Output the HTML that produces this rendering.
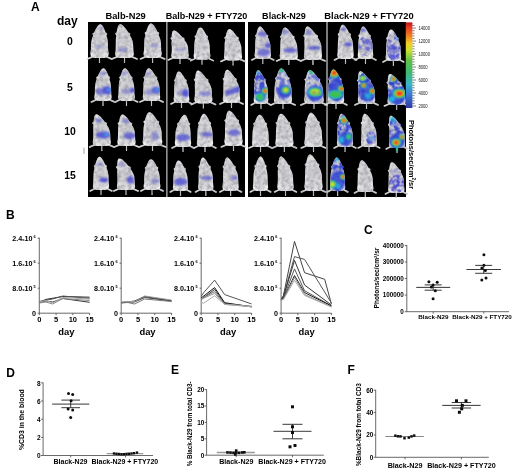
<!DOCTYPE html>
<html><head><meta charset="utf-8"><style>
html,body{margin:0;padding:0;background:#fff;}
body{width:520px;height:474px;overflow:hidden;}
svg{display:block;}
text{font-family:"Liberation Sans", sans-serif;}
</style></head><body>
<svg width="520" height="474" viewBox="0 0 520 474">
<defs>
<radialGradient id="mg" cx="0.5" cy="0.5" r="0.62">
<stop offset="0" stop-color="#cbcbcf"/>
<stop offset="0.6" stop-color="#d8d8dc"/>
<stop offset="0.9" stop-color="#ebebed"/>
<stop offset="1" stop-color="#f8f8f8"/>
</radialGradient>
<filter id="b1" x="-50%" y="-50%" width="200%" height="200%"><feGaussianBlur stdDeviation="0.9"/></filter>
<filter id="b2" x="-50%" y="-50%" width="200%" height="200%"><feGaussianBlur stdDeviation="1.5"/></filter>
<filter id="tex" x="0" y="0" width="100%" height="100%" filterUnits="userSpaceOnUse">
<feTurbulence type="fractalNoise" baseFrequency="0.28" numOctaves="2" seed="4" result="n"/>
<feColorMatrix in="n" type="matrix" values="0 0 0 0 0.42  0 0 0 0 0.42  0 0 0 0 0.45  2.6 0 0 0 -0.95" result="d"/>
<feComposite in="d" in2="SourceGraphic" operator="in" result="dc"/>
<feMerge result="m"><feMergeNode in="SourceGraphic"/><feMergeNode in="dc"/></feMerge>
<feGaussianBlur in="m" stdDeviation="0.35"/>
</filter>
<filter id="patch" filterUnits="objectBoundingBox" x="0" y="0" width="1" height="1">
<feTurbulence type="fractalNoise" baseFrequency="0.2" numOctaves="2" seed="7" result="n"/>
<feColorMatrix in="n" type="matrix" values="0 0 0 0 0  0 0 0 0 0  0 0 0 0 0  0 0 0 3.4 -1.2" result="na"/>
<feComposite in="SourceGraphic" in2="na" operator="in" result="c"/>
<feGaussianBlur in="c" stdDeviation="0.5"/>
</filter>
<filter id="patch2" filterUnits="objectBoundingBox" x="0" y="0" width="1" height="1">
<feTurbulence type="fractalNoise" baseFrequency="0.2" numOctaves="2" seed="19" result="n"/>
<feColorMatrix in="n" type="matrix" values="0 0 0 0 0  0 0 0 0 0  0 0 0 0 0  0 0 0 3.4 -1.2" result="na"/>
<feComposite in="SourceGraphic" in2="na" operator="in" result="c"/>
<feGaussianBlur in="c" stdDeviation="0.5"/>
</filter>
<filter id="gblur" filterUnits="userSpaceOnUse" x="0" y="0" width="520" height="474"><feGaussianBlur stdDeviation="0.4"/></filter>
<linearGradient id="cbar" x1="0" y1="0" x2="0" y2="1">
<stop offset="0" stop-color="#b01818"/>
<stop offset="0.05" stop-color="#e83324"/>
<stop offset="0.15" stop-color="#f07a22"/>
<stop offset="0.25" stop-color="#f0d020"/>
<stop offset="0.33" stop-color="#c8e030"/>
<stop offset="0.45" stop-color="#5cbf48"/>
<stop offset="0.6" stop-color="#3cb878"/>
<stop offset="0.72" stop-color="#38b8c8"/>
<stop offset="0.85" stop-color="#3a78d8"/>
<stop offset="1" stop-color="#3038a8"/>
</linearGradient>
</defs>
<g filter="url(#gblur)">

<text x="31" y="10.8" font-size="12" font-weight="bold">A</text>
<text x="57" y="24.5" font-size="12" font-weight="bold">day</text>
<text x="70" y="45.2" font-size="10.4" font-weight="bold" text-anchor="middle">0</text>
<text x="70" y="90.8" font-size="10.4" font-weight="bold" text-anchor="middle">5</text>
<text x="70" y="135.3" font-size="10.4" font-weight="bold" text-anchor="middle">10</text>
<text x="70" y="178.9" font-size="10.4" font-weight="bold" text-anchor="middle">15</text>
<text x="125.6" y="18.6" font-size="9.3" font-weight="bold" text-anchor="middle">Balb-N29</text>
<text x="206.5" y="18.6" font-size="9.05" font-weight="bold" text-anchor="middle">Balb-N29 + FTY720</text>
<text x="284" y="18.6" font-size="9.05" font-weight="bold" text-anchor="middle">Black-N29</text>
<text x="369" y="18.6" font-size="9.4" font-weight="bold" text-anchor="middle">Black-N29 + FTY720</text>
<rect x="83" y="147.6" width="1.8" height="6.3" fill="#cccccc"/>
<rect x="88" y="22" width="318" height="175" fill="#050505"/>
<rect x="166.2" y="22" width="1.3" height="175" fill="#b4b4b4"/>
<rect x="245" y="22" width="3" height="175" fill="#ffffff"/>
<rect x="326.3" y="22" width="1.4" height="175" fill="#b0b0b4"/>
<defs><path id="m0" d="M100.30,24.30 C100.90,24.30 101.57,24.86 102.06,25.31 C102.55,25.76 102.88,26.38 103.24,27.00 C103.60,27.61 103.92,28.34 104.22,29.02 C104.52,29.69 104.78,30.48 105.03,31.04 C105.28,31.60 105.35,31.99 105.69,32.39 C106.04,32.78 106.90,33.06 107.10,33.40 C107.30,33.74 106.98,34.02 106.87,34.41 C106.77,34.80 106.39,35.08 106.46,35.76 C106.52,36.43 107.03,37.27 107.26,38.45 C107.50,39.63 107.74,41.26 107.86,42.84 C107.99,44.41 107.96,46.49 108.02,47.89 C108.08,49.29 108.11,50.25 108.20,51.26 C108.29,52.27 108.63,53.11 108.56,53.96 C108.50,54.80 108.38,55.70 107.84,56.31 C107.30,56.93 106.69,57.38 105.30,57.66 C103.91,57.94 101.43,58.00 99.50,58.00 C97.57,58.00 95.09,57.94 93.70,57.66 C92.31,57.38 91.70,56.93 91.16,56.31 C90.62,55.70 90.50,54.80 90.44,53.96 C90.37,53.11 90.71,52.27 90.80,51.26 C90.89,50.25 90.91,49.29 90.98,47.89 C91.04,46.49 91.01,44.41 91.18,42.84 C91.36,41.26 91.72,39.63 92.03,38.45 C92.34,37.27 92.92,36.43 93.04,35.76 C93.16,35.08 92.81,34.80 92.73,34.41 C92.66,34.02 92.37,33.74 92.59,33.40 C92.82,33.06 93.71,32.78 94.09,32.39 C94.47,31.99 94.58,31.60 94.88,31.04 C95.18,30.48 95.52,29.69 95.88,29.02 C96.25,28.34 96.65,27.61 97.07,27.00 C97.50,26.38 97.89,25.76 98.43,25.31 C98.97,24.86 99.70,24.30 100.30,24.30 Z"/><path id="m1" d="M120.30,24.30 C120.92,24.30 121.80,24.86 122.45,25.31 C123.11,25.76 123.66,26.38 124.23,27.00 C124.80,27.61 125.37,28.34 125.89,29.02 C126.40,29.69 126.91,30.48 127.33,31.04 C127.75,31.60 127.94,31.99 128.40,32.39 C128.87,32.78 129.83,33.06 130.13,33.40 C130.42,33.74 130.18,34.02 130.17,34.41 C130.16,34.80 129.86,35.08 130.09,35.76 C130.32,36.43 131.07,37.27 131.54,38.45 C132.02,39.63 132.65,41.26 132.94,42.84 C133.22,44.41 133.17,46.49 133.25,47.89 C133.34,49.29 133.34,50.25 133.44,51.26 C133.53,52.27 133.87,53.11 133.81,53.96 C133.75,54.80 133.62,55.70 133.07,56.31 C132.51,56.93 131.89,57.38 130.46,57.66 C129.03,57.94 126.49,58.00 124.50,58.00 C122.51,58.00 119.97,57.94 118.54,57.66 C117.11,57.38 116.49,56.93 115.93,56.31 C115.38,55.70 115.25,54.80 115.19,53.96 C115.13,53.11 115.47,52.27 115.56,51.26 C115.66,50.25 115.71,49.29 115.75,47.89 C115.79,46.49 115.78,44.41 115.81,42.84 C115.83,41.26 115.82,39.63 115.90,38.45 C115.98,37.27 116.35,36.43 116.31,35.76 C116.27,35.08 115.83,34.80 115.65,34.41 C115.47,34.02 115.09,33.74 115.23,33.40 C115.37,33.06 116.21,32.78 116.49,32.39 C116.77,31.99 116.77,31.60 116.91,31.04 C117.04,30.48 117.16,29.69 117.32,29.02 C117.49,28.34 117.66,27.61 117.90,27.00 C118.13,26.38 118.33,25.76 118.73,25.31 C119.13,24.86 119.68,24.30 120.30,24.30 Z"/><path id="m2" d="M151.00,23.50 C151.60,23.50 152.35,24.07 152.91,24.54 C153.47,25.00 153.90,25.63 154.36,26.26 C154.81,26.89 155.25,27.64 155.64,28.33 C156.04,29.02 156.42,29.82 156.74,30.40 C157.07,30.97 157.19,31.38 157.59,31.78 C157.98,32.18 158.88,32.47 159.12,32.81 C159.36,33.16 159.08,33.45 159.03,33.85 C158.97,34.25 158.63,34.54 158.78,35.23 C158.92,35.92 159.53,36.78 159.88,37.99 C160.22,39.20 160.65,40.87 160.85,42.48 C161.05,44.09 161.01,46.21 161.08,47.65 C161.14,49.09 161.17,50.06 161.26,51.10 C161.35,52.14 161.68,53.00 161.62,53.86 C161.56,54.72 161.44,55.64 160.89,56.27 C160.35,56.91 159.75,57.37 158.37,57.66 C156.99,57.94 154.52,58.00 152.60,58.00 C150.68,58.00 148.21,57.94 146.83,57.66 C145.45,57.37 144.85,56.91 144.31,56.27 C143.76,55.64 143.64,54.72 143.58,53.86 C143.52,53.00 143.85,52.14 143.94,51.10 C144.03,50.06 144.07,49.09 144.12,47.65 C144.18,46.21 144.16,44.09 144.26,42.48 C144.36,40.87 144.53,39.20 144.73,37.99 C144.93,36.78 145.39,35.92 145.43,35.23 C145.47,34.54 145.08,34.25 144.96,33.85 C144.84,33.45 144.51,33.16 144.69,32.81 C144.88,32.47 145.72,32.18 146.05,31.78 C146.37,31.38 146.43,30.97 146.64,30.40 C146.86,29.82 147.09,29.02 147.35,28.33 C147.61,27.64 147.90,26.89 148.23,26.26 C148.55,25.63 148.85,25.00 149.31,24.54 C149.77,24.07 150.40,23.50 151.00,23.50 Z"/><path id="m3" d="M103.40,68.30 C103.97,68.30 104.62,68.84 105.10,69.28 C105.57,69.72 105.90,70.32 106.26,70.92 C106.62,71.52 106.94,72.22 107.24,72.88 C107.54,73.53 107.81,74.30 108.06,74.84 C108.30,75.39 108.38,75.77 108.72,76.15 C109.05,76.53 109.88,76.80 110.07,77.13 C110.27,77.46 109.97,77.73 109.88,78.11 C109.78,78.49 109.43,78.76 109.51,79.42 C109.58,80.07 110.08,80.89 110.32,82.03 C110.56,83.18 110.82,84.76 110.95,86.28 C111.08,87.81 111.05,89.83 111.11,91.19 C111.16,92.55 111.19,93.48 111.28,94.46 C111.37,95.44 111.68,96.26 111.62,97.08 C111.57,97.89 111.45,98.77 110.93,99.36 C110.42,99.96 109.84,100.40 108.52,100.67 C107.20,100.95 104.84,101.00 103.00,101.00 C101.16,101.00 98.80,100.95 97.48,100.67 C96.16,100.40 95.58,99.96 95.07,99.36 C94.55,98.77 94.43,97.89 94.38,97.08 C94.32,96.26 94.63,95.44 94.72,94.46 C94.81,93.48 94.83,92.55 94.89,91.19 C94.95,89.83 94.92,87.81 95.08,86.28 C95.23,84.76 95.55,83.18 95.83,82.03 C96.11,80.89 96.64,80.07 96.74,79.42 C96.84,78.76 96.50,78.49 96.42,78.11 C96.35,77.73 96.07,77.46 96.27,77.13 C96.48,76.80 97.32,76.53 97.68,76.15 C98.03,75.77 98.13,75.39 98.40,74.84 C98.67,74.30 98.98,73.53 99.31,72.88 C99.64,72.22 100.01,71.52 100.40,70.92 C100.79,70.32 101.15,69.72 101.65,69.28 C102.15,68.84 102.83,68.30 103.40,68.30 Z"/><path id="m4" d="M124.90,68.30 C125.46,68.30 126.16,68.84 126.68,69.28 C127.20,69.72 127.60,70.32 128.02,70.92 C128.45,71.52 128.86,72.22 129.23,72.88 C129.60,73.53 129.95,74.30 130.26,74.84 C130.56,75.39 130.68,75.77 131.05,76.15 C131.42,76.53 132.25,76.80 132.47,77.13 C132.69,77.46 132.44,77.73 132.39,78.11 C132.34,78.49 132.03,78.76 132.17,79.42 C132.30,80.07 132.88,80.89 133.20,82.03 C133.53,83.18 133.93,84.76 134.11,86.28 C134.30,87.81 134.27,89.83 134.33,91.19 C134.39,92.55 134.41,93.48 134.50,94.46 C134.58,95.44 134.89,96.26 134.83,97.08 C134.77,97.89 134.66,98.77 134.16,99.36 C133.66,99.96 133.11,100.40 131.83,100.67 C130.55,100.95 128.28,101.00 126.50,101.00 C124.72,101.00 122.45,100.95 121.17,100.67 C119.89,100.40 119.34,99.96 118.84,99.36 C118.34,98.77 118.23,97.89 118.17,97.08 C118.11,96.26 118.42,95.44 118.50,94.46 C118.59,93.48 118.62,92.55 118.67,91.19 C118.72,89.83 118.70,87.81 118.79,86.28 C118.88,84.76 119.03,83.18 119.21,82.03 C119.38,80.89 119.81,80.07 119.84,79.42 C119.87,78.76 119.51,78.49 119.40,78.11 C119.28,77.73 118.98,77.46 119.14,77.13 C119.31,76.80 120.09,76.53 120.39,76.15 C120.68,75.77 120.73,75.39 120.93,74.84 C121.12,74.30 121.33,73.53 121.57,72.88 C121.80,72.22 122.06,71.52 122.36,70.92 C122.65,70.32 122.92,69.72 123.34,69.28 C123.77,68.84 124.34,68.30 124.90,68.30 Z"/><path id="m5" d="M148.80,68.30 C149.38,68.30 150.15,68.84 150.72,69.28 C151.29,69.72 151.75,70.32 152.24,70.92 C152.72,71.52 153.20,72.22 153.63,72.88 C154.06,73.53 154.48,74.30 154.83,74.84 C155.18,75.39 155.32,75.77 155.73,76.15 C156.14,76.53 157.02,76.80 157.27,77.13 C157.52,77.46 157.27,77.73 157.24,78.11 C157.21,78.49 156.91,78.76 157.08,79.42 C157.25,80.07 157.90,80.89 158.28,82.03 C158.67,83.18 159.17,84.76 159.40,86.28 C159.62,87.81 159.58,89.83 159.65,91.19 C159.72,92.55 159.74,93.48 159.83,94.46 C159.91,95.44 160.23,96.26 160.17,97.08 C160.12,97.89 160.00,98.77 159.48,99.36 C158.96,99.96 158.38,100.40 157.05,100.67 C155.72,100.95 153.35,101.00 151.50,101.00 C149.65,101.00 147.28,100.95 145.95,100.67 C144.62,100.40 144.04,99.96 143.52,99.36 C143.00,98.77 142.88,97.89 142.83,97.08 C142.77,96.26 143.09,95.44 143.17,94.46 C143.26,93.48 143.30,92.55 143.35,91.19 C143.39,89.83 143.38,87.81 143.44,86.28 C143.50,84.76 143.58,83.18 143.71,82.03 C143.85,80.89 144.25,80.07 144.24,79.42 C144.24,78.76 143.85,78.49 143.71,78.11 C143.57,77.73 143.24,77.46 143.39,77.13 C143.55,76.80 144.34,76.53 144.63,76.15 C144.92,75.77 144.94,75.39 145.11,74.84 C145.28,74.30 145.44,73.53 145.65,72.88 C145.85,72.22 146.07,71.52 146.34,70.92 C146.61,70.32 146.84,69.72 147.25,69.28 C147.66,68.84 148.22,68.30 148.80,68.30 Z"/><path id="m6" d="M96.50,114.30 C97.10,114.30 98.00,114.83 98.67,115.25 C99.34,115.67 99.92,116.25 100.53,116.84 C101.13,117.42 101.74,118.10 102.29,118.74 C102.85,119.37 103.40,120.11 103.84,120.64 C104.29,121.17 104.50,121.54 104.98,121.91 C105.46,122.28 106.41,122.54 106.72,122.86 C107.03,123.18 106.81,123.44 106.82,123.81 C106.84,124.18 106.57,124.44 106.83,125.08 C107.09,125.71 107.87,126.50 108.39,127.61 C108.91,128.72 109.62,130.26 109.93,131.74 C110.25,133.21 110.19,135.17 110.28,136.49 C110.36,137.81 110.37,138.71 110.46,139.66 C110.55,140.61 110.88,141.40 110.82,142.20 C110.76,142.99 110.64,143.83 110.09,144.41 C109.55,145.00 108.95,145.42 107.57,145.68 C106.19,145.95 103.72,146.00 101.80,146.00 C99.88,146.00 97.41,145.95 96.03,145.68 C94.65,145.42 94.05,145.00 93.51,144.41 C92.96,143.83 92.84,142.99 92.78,142.20 C92.72,141.40 93.05,140.61 93.14,139.66 C93.23,138.71 93.29,137.81 93.32,136.49 C93.36,135.17 93.36,133.21 93.34,131.74 C93.33,130.26 93.22,128.72 93.24,127.61 C93.27,126.50 93.57,125.71 93.48,125.08 C93.40,124.44 92.96,124.18 92.76,123.81 C92.56,123.44 92.18,123.18 92.29,122.86 C92.41,122.54 93.20,122.28 93.44,121.91 C93.68,121.54 93.65,121.17 93.75,120.64 C93.84,120.11 93.89,119.37 94.00,118.74 C94.11,118.10 94.22,117.42 94.40,116.84 C94.57,116.25 94.71,115.67 95.06,115.25 C95.41,114.83 95.90,114.30 96.50,114.30 Z"/><path id="m7" d="M122.60,114.60 C123.20,114.60 124.05,115.12 124.68,115.54 C125.31,115.96 125.84,116.54 126.39,117.11 C126.94,117.69 127.49,118.37 127.98,119.00 C128.48,119.62 128.96,120.36 129.37,120.88 C129.77,121.40 129.94,121.77 130.39,122.14 C130.84,122.50 131.78,122.76 132.06,123.08 C132.35,123.39 132.10,123.65 132.09,124.02 C132.08,124.39 131.78,124.65 132.00,125.28 C132.22,125.90 132.94,126.69 133.39,127.79 C133.85,128.89 134.45,130.40 134.72,131.87 C134.99,133.34 134.94,135.27 135.02,136.58 C135.10,137.89 135.11,138.78 135.20,139.72 C135.29,140.66 135.63,141.45 135.56,142.23 C135.50,143.02 135.38,143.85 134.84,144.43 C134.30,145.01 133.69,145.42 132.30,145.69 C130.91,145.95 128.43,146.00 126.50,146.00 C124.57,146.00 122.09,145.95 120.70,145.69 C119.31,145.42 118.70,145.01 118.16,144.43 C117.62,143.85 117.50,143.02 117.44,142.23 C117.37,141.45 117.71,140.66 117.80,139.72 C117.89,138.78 117.94,137.89 117.98,136.58 C118.02,135.27 118.01,133.34 118.04,131.87 C118.07,130.40 118.07,128.89 118.16,127.79 C118.25,126.69 118.62,125.90 118.58,125.28 C118.55,124.65 118.12,124.39 117.95,124.02 C117.78,123.65 117.42,123.39 117.56,123.08 C117.70,122.76 118.52,122.50 118.79,122.14 C119.07,121.77 119.07,121.40 119.21,120.88 C119.35,120.36 119.47,119.62 119.64,119.00 C119.81,118.37 119.99,117.69 120.23,117.11 C120.46,116.54 120.66,115.96 121.06,115.54 C121.45,115.12 122.00,114.60 122.60,114.60 Z"/><path id="m8" d="M149.50,112.30 C150.15,112.30 151.02,112.86 151.67,113.31 C152.31,113.76 152.83,114.38 153.38,115.00 C153.92,115.61 154.45,116.34 154.94,117.02 C155.43,117.69 155.89,118.48 156.29,119.04 C156.68,119.60 156.85,119.99 157.30,120.39 C157.76,120.78 158.76,121.06 159.04,121.40 C159.32,121.74 159.04,122.02 159.01,122.41 C158.97,122.80 158.63,123.08 158.82,123.76 C159.02,124.43 159.74,125.27 160.18,126.45 C160.61,127.63 161.17,129.26 161.42,130.84 C161.68,132.41 161.63,134.49 161.71,135.89 C161.79,137.29 161.81,138.25 161.91,139.26 C162.01,140.27 162.37,141.11 162.30,141.96 C162.23,142.80 162.10,143.70 161.52,144.31 C160.93,144.93 160.27,145.38 158.77,145.66 C157.27,145.94 154.59,146.00 152.50,146.00 C150.41,146.00 147.73,145.94 146.23,145.66 C144.73,145.38 144.07,144.93 143.48,144.31 C142.90,143.70 142.77,142.80 142.70,141.96 C142.63,141.11 142.99,140.27 143.09,139.26 C143.19,138.25 143.24,137.29 143.29,135.89 C143.34,134.49 143.32,132.41 143.39,130.84 C143.46,129.26 143.56,127.63 143.71,126.45 C143.87,125.27 144.32,124.43 144.32,123.76 C144.32,123.08 143.88,122.80 143.72,122.41 C143.56,122.02 143.19,121.74 143.36,121.40 C143.53,121.06 144.44,120.78 144.76,120.39 C145.09,119.99 145.12,119.60 145.31,119.04 C145.51,118.48 145.69,117.69 145.92,117.02 C146.16,116.34 146.41,115.61 146.71,115.00 C147.02,114.38 147.28,113.76 147.75,113.31 C148.21,112.86 148.85,112.30 149.50,112.30 Z"/><path id="m9" d="M99.50,156.80 C100.04,156.80 100.72,157.35 101.22,157.80 C101.72,158.24 102.11,158.85 102.52,159.46 C102.93,160.06 103.33,160.78 103.69,161.45 C104.04,162.11 104.38,162.89 104.68,163.44 C104.97,163.99 105.08,164.38 105.44,164.77 C105.80,165.16 106.60,165.43 106.82,165.76 C107.03,166.10 106.79,166.37 106.74,166.76 C106.69,167.15 106.39,167.42 106.52,168.09 C106.65,168.75 107.20,169.58 107.51,170.74 C107.83,171.91 108.21,173.51 108.39,175.06 C108.57,176.61 108.54,178.66 108.60,180.04 C108.66,181.42 108.68,182.36 108.76,183.36 C108.84,184.36 109.14,185.19 109.08,186.02 C109.03,186.85 108.92,187.73 108.44,188.34 C107.95,188.95 107.41,189.39 106.17,189.67 C104.93,189.94 102.72,190.00 101.00,190.00 C99.28,190.00 97.07,189.94 95.83,189.67 C94.59,189.39 94.05,188.95 93.56,188.34 C93.08,187.73 92.97,186.85 92.92,186.02 C92.86,185.19 93.16,184.36 93.24,183.36 C93.32,182.36 93.35,181.42 93.40,180.04 C93.45,178.66 93.43,176.61 93.52,175.06 C93.60,173.51 93.76,171.91 93.93,170.74 C94.10,169.58 94.52,168.75 94.55,168.09 C94.58,167.42 94.24,167.15 94.13,166.76 C94.01,166.37 93.72,166.10 93.88,165.76 C94.04,165.43 94.80,165.16 95.09,164.77 C95.38,164.38 95.43,163.99 95.62,163.44 C95.81,162.89 96.01,162.11 96.25,161.45 C96.48,160.78 96.73,160.06 97.02,159.46 C97.31,158.85 97.57,158.24 97.99,157.80 C98.40,157.35 98.96,156.80 99.50,156.80 Z"/><path id="m10" d="M119.50,158.40 C120.10,158.40 121.05,158.93 121.76,159.35 C122.47,159.77 123.11,160.35 123.76,160.93 C124.42,161.51 125.08,162.19 125.69,162.82 C126.29,163.46 126.90,164.19 127.39,164.72 C127.88,165.25 128.11,165.62 128.62,165.98 C129.13,166.35 130.11,166.62 130.44,166.93 C130.77,167.25 130.57,167.51 130.61,167.88 C130.65,168.25 130.39,168.51 130.69,169.14 C130.99,169.78 131.84,170.57 132.41,171.67 C132.98,172.78 133.79,174.31 134.14,175.78 C134.49,177.25 134.43,179.20 134.52,180.52 C134.61,181.84 134.61,182.73 134.70,183.68 C134.79,184.63 135.13,185.42 135.06,186.21 C135.00,187.00 134.88,187.84 134.34,188.42 C133.80,189.00 133.19,189.42 131.80,189.68 C130.41,189.95 127.93,190.00 126.00,190.00 C124.07,190.00 121.59,189.95 120.20,189.68 C118.81,189.42 118.20,189.00 117.66,188.42 C117.12,187.84 117.00,187.00 116.94,186.21 C116.87,185.42 117.21,184.63 117.30,183.68 C117.39,182.73 117.45,181.84 117.48,180.52 C117.51,179.20 117.51,177.25 117.46,175.78 C117.41,174.31 117.21,172.78 117.18,171.67 C117.15,170.57 117.40,169.78 117.28,169.14 C117.16,168.51 116.69,168.25 116.47,167.88 C116.24,167.51 115.84,167.25 115.93,166.93 C116.03,166.62 116.80,166.35 117.02,165.98 C117.24,165.62 117.18,165.25 117.24,164.72 C117.29,164.19 117.29,163.46 117.35,162.82 C117.41,162.19 117.47,161.51 117.60,160.93 C117.73,160.35 117.82,159.77 118.14,159.35 C118.45,158.93 118.90,158.40 119.50,158.40 Z"/><path id="m11" d="M151.00,159.20 C151.56,159.20 152.23,159.71 152.74,160.12 C153.24,160.53 153.61,161.10 154.01,161.66 C154.41,162.23 154.80,162.90 155.14,163.51 C155.49,164.13 155.81,164.85 156.10,165.36 C156.38,165.87 156.49,166.23 156.84,166.59 C157.20,166.95 158.02,167.21 158.23,167.52 C158.44,167.82 158.18,168.08 158.12,168.44 C158.06,168.80 157.74,169.06 157.85,169.67 C157.97,170.29 158.52,171.06 158.81,172.14 C159.11,173.21 159.46,174.70 159.63,176.14 C159.80,177.58 159.77,179.48 159.83,180.76 C159.89,182.04 159.91,182.92 160.00,183.84 C160.08,184.76 160.39,185.53 160.33,186.30 C160.27,187.07 160.16,187.90 159.66,188.46 C159.16,189.02 158.61,189.44 157.33,189.69 C156.05,189.95 153.78,190.00 152.00,190.00 C150.22,190.00 147.95,189.95 146.67,189.69 C145.39,189.44 144.84,189.02 144.34,188.46 C143.84,187.90 143.73,187.07 143.67,186.30 C143.61,185.53 143.92,184.76 144.00,183.84 C144.09,182.92 144.12,182.04 144.17,180.76 C144.22,179.48 144.20,177.58 144.31,176.14 C144.41,174.70 144.61,173.21 144.82,172.14 C145.02,171.06 145.47,170.29 145.53,169.67 C145.58,169.06 145.23,168.80 145.12,168.44 C145.02,168.08 144.73,167.82 144.90,167.52 C145.08,167.21 145.87,166.95 146.18,166.59 C146.49,166.23 146.55,165.87 146.77,165.36 C146.98,164.85 147.22,164.13 147.48,163.51 C147.74,162.90 148.03,162.23 148.35,161.66 C148.67,161.10 148.96,160.53 149.40,160.12 C149.85,159.71 150.44,159.20 151.00,159.20 Z"/><path id="m12" d="M174.00,30.50 C174.58,30.50 175.48,30.98 176.16,31.36 C176.84,31.73 177.44,32.26 178.05,32.78 C178.67,33.30 179.30,33.92 179.88,34.49 C180.45,35.06 181.02,35.73 181.48,36.20 C181.95,36.68 182.16,37.01 182.65,37.34 C183.13,37.67 184.07,37.91 184.38,38.20 C184.69,38.48 184.49,38.72 184.53,39.05 C184.57,39.38 184.31,39.62 184.59,40.19 C184.87,40.76 185.67,41.47 186.21,42.47 C186.76,43.47 187.51,44.84 187.84,46.17 C188.17,47.50 188.11,49.26 188.20,50.45 C188.29,51.64 188.29,52.45 188.37,53.30 C188.46,54.15 188.78,54.87 188.72,55.58 C188.66,56.29 188.55,57.05 188.02,57.58 C187.50,58.10 186.92,58.48 185.58,58.72 C184.24,58.95 181.86,59.00 180.00,59.00 C178.14,59.00 175.76,58.95 174.42,58.72 C173.08,58.48 172.50,58.10 171.98,57.58 C171.45,57.05 171.34,56.29 171.28,55.58 C171.22,54.87 171.54,54.15 171.63,53.30 C171.71,52.45 171.77,51.64 171.80,50.45 C171.83,49.26 171.83,47.50 171.79,46.17 C171.75,44.84 171.58,43.47 171.56,42.47 C171.54,41.47 171.79,40.76 171.68,40.19 C171.58,39.62 171.13,39.38 170.92,39.05 C170.71,38.72 170.33,38.48 170.42,38.20 C170.52,37.91 171.27,37.67 171.48,37.34 C171.70,37.01 171.65,36.68 171.71,36.20 C171.78,35.73 171.78,35.06 171.85,34.49 C171.92,33.92 171.99,33.30 172.12,32.78 C172.26,32.26 172.36,31.73 172.67,31.36 C172.98,30.98 173.42,30.50 174.00,30.50 Z"/><path id="m13" d="M200.30,27.40 C200.86,27.40 201.56,27.94 202.08,28.37 C202.61,28.80 203.01,29.39 203.44,29.98 C203.87,30.58 204.28,31.28 204.66,31.92 C205.04,32.57 205.39,33.32 205.70,33.86 C206.01,34.40 206.13,34.78 206.50,35.15 C206.87,35.53 207.70,35.80 207.93,36.12 C208.15,36.44 207.90,36.71 207.85,37.09 C207.80,37.47 207.50,37.74 207.64,38.38 C207.78,39.03 208.35,39.84 208.68,40.97 C209.01,42.10 209.42,43.66 209.61,45.17 C209.80,46.67 209.77,48.66 209.83,50.01 C209.89,51.36 209.91,52.27 210.00,53.24 C210.08,54.21 210.39,55.02 210.33,55.82 C210.27,56.63 210.16,57.49 209.66,58.09 C209.16,58.68 208.61,59.11 207.33,59.38 C206.05,59.65 203.78,59.70 202.00,59.70 C200.22,59.70 197.95,59.65 196.67,59.38 C195.39,59.11 194.84,58.68 194.34,58.09 C193.84,57.49 193.73,56.63 193.67,55.82 C193.61,55.02 193.92,54.21 194.00,53.24 C194.09,52.27 194.12,51.36 194.17,50.01 C194.22,48.66 194.20,46.67 194.28,45.17 C194.37,43.66 194.52,42.10 194.69,40.97 C194.86,39.84 195.28,39.03 195.31,38.38 C195.34,37.74 194.98,37.47 194.86,37.09 C194.74,36.71 194.44,36.44 194.60,36.12 C194.76,35.80 195.54,35.53 195.84,35.15 C196.13,34.78 196.18,34.40 196.37,33.86 C196.56,33.32 196.76,32.57 197.00,31.92 C197.23,31.28 197.48,30.58 197.78,29.98 C198.07,29.39 198.33,28.80 198.75,28.37 C199.17,27.94 199.74,27.40 200.30,27.40 Z"/><path id="m14" d="M229.50,29.00 C230.10,29.00 230.93,29.52 231.55,29.95 C232.16,30.37 232.67,30.94 233.20,31.52 C233.73,32.10 234.26,32.78 234.73,33.41 C235.21,34.04 235.68,34.77 236.06,35.30 C236.45,35.82 236.62,36.19 237.06,36.56 C237.50,36.93 238.42,37.19 238.70,37.51 C238.97,37.82 238.72,38.08 238.71,38.45 C238.69,38.82 238.38,39.08 238.59,39.71 C238.79,40.34 239.49,41.13 239.92,42.23 C240.36,43.33 240.93,44.86 241.19,46.33 C241.45,47.80 241.40,49.74 241.48,51.05 C241.55,52.36 241.57,53.26 241.66,54.20 C241.75,55.15 242.08,55.93 242.02,56.72 C241.96,57.51 241.84,58.35 241.29,58.92 C240.75,59.50 240.15,59.92 238.77,60.19 C237.39,60.45 234.92,60.50 233.00,60.50 C231.08,60.50 228.61,60.45 227.23,60.19 C225.85,59.92 225.25,59.50 224.71,58.92 C224.16,58.35 224.04,57.51 223.98,56.72 C223.92,55.93 224.25,55.15 224.34,54.20 C224.43,53.26 224.48,52.36 224.52,51.05 C224.57,49.74 224.56,47.80 224.60,46.33 C224.64,44.86 224.67,43.33 224.78,42.23 C224.89,41.13 225.27,40.34 225.24,39.71 C225.22,39.08 224.80,38.82 224.64,38.45 C224.48,38.08 224.13,37.82 224.27,37.51 C224.42,37.19 225.24,36.93 225.52,36.56 C225.80,36.19 225.81,35.82 225.97,35.30 C226.12,34.77 226.26,34.04 226.44,33.41 C226.62,32.78 226.82,32.10 227.07,31.52 C227.32,30.94 227.53,30.37 227.94,29.95 C228.34,29.52 228.90,29.00 229.50,29.00 Z"/><path id="m15" d="M178.80,71.40 C179.32,71.40 180.03,71.93 180.56,72.35 C181.08,72.77 181.51,73.35 181.96,73.93 C182.40,74.51 182.84,75.19 183.25,75.82 C183.65,76.46 184.03,77.19 184.36,77.72 C184.69,78.25 184.82,78.62 185.20,78.98 C185.57,79.35 186.37,79.62 186.60,79.93 C186.84,80.25 186.62,80.51 186.59,80.88 C186.57,81.25 186.30,81.51 186.46,82.14 C186.63,82.78 187.22,83.57 187.59,84.67 C187.95,85.78 188.42,87.31 188.63,88.78 C188.84,90.25 188.80,92.20 188.87,93.52 C188.94,94.84 188.95,95.73 189.03,96.68 C189.10,97.63 189.39,98.42 189.34,99.21 C189.29,100.00 189.18,100.84 188.71,101.42 C188.24,102.00 187.72,102.42 186.52,102.68 C185.32,102.95 183.17,103.00 181.50,103.00 C179.83,103.00 177.68,102.95 176.48,102.68 C175.28,102.42 174.76,102.00 174.29,101.42 C173.82,100.84 173.71,100.00 173.66,99.21 C173.61,98.42 173.90,97.63 173.97,96.68 C174.05,95.73 174.09,94.84 174.13,93.52 C174.17,92.20 174.16,90.25 174.20,88.78 C174.25,87.31 174.30,85.78 174.41,84.67 C174.52,83.57 174.87,82.78 174.86,82.14 C174.85,81.51 174.50,81.25 174.36,80.88 C174.23,80.51 173.93,80.25 174.06,79.93 C174.19,79.62 174.91,79.35 175.16,78.98 C175.42,78.62 175.43,78.25 175.58,77.72 C175.72,77.19 175.86,76.46 176.03,75.82 C176.21,75.19 176.39,74.51 176.62,73.93 C176.86,73.35 177.06,72.77 177.42,72.35 C177.78,71.93 178.28,71.40 178.80,71.40 Z"/><path id="m16" d="M198.00,70.60 C198.60,70.60 199.50,71.15 200.18,71.59 C200.85,72.03 201.44,72.63 202.05,73.23 C202.65,73.84 203.27,74.55 203.82,75.21 C204.38,75.86 204.94,76.63 205.39,77.18 C205.84,77.73 206.05,78.11 206.53,78.50 C207.01,78.88 207.96,79.15 208.27,79.48 C208.58,79.81 208.37,80.09 208.39,80.47 C208.41,80.85 208.13,81.13 208.40,81.79 C208.66,82.44 209.45,83.27 209.97,84.42 C210.49,85.57 211.21,87.16 211.53,88.69 C211.85,90.23 211.79,92.26 211.88,93.63 C211.96,95.00 211.97,95.93 212.06,96.92 C212.15,97.91 212.48,98.73 212.42,99.55 C212.36,100.37 212.24,101.25 211.69,101.85 C211.15,102.46 210.55,102.90 209.17,103.17 C207.79,103.45 205.32,103.50 203.40,103.50 C201.48,103.50 199.01,103.45 197.63,103.17 C196.25,102.90 195.65,102.46 195.11,101.85 C194.56,101.25 194.44,100.37 194.38,99.55 C194.32,98.73 194.65,97.91 194.74,96.92 C194.83,95.93 194.89,95.00 194.92,93.63 C194.96,92.26 194.96,90.23 194.94,88.69 C194.92,87.16 194.81,85.57 194.83,84.42 C194.84,83.27 195.14,82.44 195.05,81.79 C194.97,81.13 194.52,80.85 194.32,80.47 C194.12,80.09 193.74,79.81 193.85,79.48 C193.96,79.15 194.75,78.88 194.99,78.50 C195.23,78.11 195.20,77.73 195.29,77.18 C195.38,76.63 195.43,75.86 195.53,75.21 C195.63,74.55 195.74,73.84 195.91,73.23 C196.09,72.63 196.22,72.03 196.57,71.59 C196.92,71.15 197.40,70.60 198.00,70.60 Z"/><path id="m17" d="M227.20,69.80 C227.78,69.80 228.61,70.35 229.23,70.80 C229.85,71.24 230.38,71.85 230.93,72.46 C231.48,73.06 232.03,73.78 232.53,74.45 C233.02,75.11 233.52,75.89 233.92,76.44 C234.32,76.99 234.50,77.38 234.95,77.77 C235.39,78.16 236.30,78.43 236.58,78.76 C236.86,79.10 236.63,79.37 236.64,79.76 C236.64,80.15 236.36,80.42 236.58,81.09 C236.81,81.75 237.53,82.58 237.99,83.74 C238.45,84.91 239.07,86.51 239.35,88.06 C239.62,89.61 239.57,91.66 239.65,93.04 C239.73,94.42 239.74,95.36 239.83,96.36 C239.91,97.36 240.23,98.19 240.17,99.02 C240.12,99.85 240.00,100.73 239.48,101.34 C238.96,101.95 238.38,102.39 237.05,102.67 C235.72,102.94 233.35,103.00 231.50,103.00 C229.65,103.00 227.28,102.94 225.95,102.67 C224.62,102.39 224.04,101.95 223.52,101.34 C223.00,100.73 222.88,99.85 222.83,99.02 C222.77,98.19 223.09,97.36 223.17,96.36 C223.26,95.36 223.31,94.42 223.35,93.04 C223.38,91.66 223.38,89.61 223.39,88.06 C223.40,86.51 223.36,84.91 223.42,83.74 C223.48,82.58 223.80,81.75 223.75,81.09 C223.70,80.42 223.28,80.15 223.11,79.76 C222.93,79.37 222.58,79.10 222.70,78.76 C222.82,78.43 223.60,78.16 223.85,77.77 C224.10,77.38 224.09,76.99 224.21,76.44 C224.32,75.89 224.41,75.11 224.55,74.45 C224.68,73.78 224.83,73.06 225.03,72.46 C225.23,71.85 225.40,71.24 225.76,70.80 C226.12,70.35 226.62,69.80 227.20,69.80 Z"/><path id="m18" d="M184.50,114.70 C185.04,114.70 185.61,115.24 186.02,115.67 C186.44,116.10 186.70,116.69 186.99,117.28 C187.29,117.88 187.54,118.58 187.78,119.22 C188.01,119.87 188.21,120.62 188.41,121.16 C188.60,121.70 188.65,122.08 188.94,122.45 C189.23,122.83 189.99,123.10 190.16,123.42 C190.32,123.74 190.02,124.01 189.91,124.39 C189.80,124.77 189.45,125.04 189.48,125.68 C189.52,126.33 189.94,127.14 190.11,128.27 C190.28,129.40 190.44,130.96 190.53,132.47 C190.62,133.97 190.60,135.96 190.65,137.31 C190.69,138.66 190.73,139.57 190.81,140.54 C190.89,141.51 191.19,142.32 191.13,143.12 C191.08,143.93 190.97,144.79 190.48,145.38 C190.00,145.98 189.45,146.41 188.21,146.68 C186.96,146.95 184.74,147.00 183.00,147.00 C181.26,147.00 179.04,146.95 177.79,146.68 C176.55,146.41 176.00,145.98 175.52,145.38 C175.03,144.79 174.92,143.93 174.87,143.12 C174.81,142.32 175.11,141.51 175.19,140.54 C175.27,139.57 175.29,138.66 175.35,137.31 C175.42,135.96 175.38,133.97 175.56,132.47 C175.74,130.96 176.13,129.40 176.45,128.27 C176.76,127.14 177.32,126.33 177.45,125.68 C177.58,125.04 177.27,124.77 177.22,124.39 C177.17,124.01 176.92,123.74 177.14,123.42 C177.36,123.10 178.17,122.83 178.53,122.45 C178.89,122.08 179.00,121.70 179.30,121.16 C179.59,120.62 179.93,119.87 180.29,119.22 C180.65,118.58 181.05,117.88 181.46,117.28 C181.87,116.69 182.26,116.10 182.77,115.67 C183.28,115.24 183.96,114.70 184.50,114.70 Z"/><path id="m19" d="M203.90,113.70 C204.44,113.70 205.11,114.25 205.60,114.70 C206.10,115.14 206.47,115.75 206.87,116.36 C207.26,116.97 207.64,117.70 207.98,118.36 C208.33,119.03 208.65,119.81 208.93,120.36 C209.21,120.91 209.32,121.30 209.67,121.69 C210.02,122.08 210.82,122.36 211.03,122.69 C211.24,123.02 210.99,123.30 210.93,123.69 C210.87,124.08 210.56,124.36 210.68,125.02 C210.79,125.69 211.33,126.52 211.63,127.69 C211.92,128.85 212.28,130.46 212.45,132.02 C212.62,133.57 212.59,135.62 212.65,137.01 C212.71,138.40 212.73,139.34 212.81,140.34 C212.89,141.34 213.19,142.17 213.13,143.00 C213.08,143.84 212.97,144.72 212.48,145.34 C212.00,145.95 211.45,146.39 210.21,146.67 C208.96,146.94 206.74,147.00 205.00,147.00 C203.26,147.00 201.04,146.94 199.79,146.67 C198.55,146.39 198.00,145.95 197.52,145.34 C197.03,144.72 196.92,143.84 196.87,143.00 C196.81,142.17 197.11,141.34 197.19,140.34 C197.27,139.34 197.31,138.40 197.35,137.01 C197.40,135.62 197.38,133.57 197.48,132.02 C197.58,130.46 197.77,128.85 197.96,127.69 C198.16,126.52 198.59,125.69 198.64,125.02 C198.69,124.36 198.34,124.08 198.24,123.69 C198.13,123.30 197.85,123.02 198.02,122.69 C198.19,122.36 198.96,122.08 199.26,121.69 C199.56,121.30 199.61,120.91 199.82,120.36 C200.03,119.81 200.25,119.03 200.50,118.36 C200.75,117.70 201.03,116.97 201.33,116.36 C201.64,115.75 201.92,115.14 202.35,114.70 C202.78,114.25 203.36,113.70 203.90,113.70 Z"/><path id="m20" d="M229.20,110.80 C229.80,110.80 230.67,111.39 231.31,111.86 C231.95,112.33 232.50,112.97 233.06,113.62 C233.63,114.26 234.19,115.02 234.71,115.73 C235.22,116.43 235.72,117.25 236.14,117.84 C236.55,118.43 236.74,118.84 237.20,119.25 C237.66,119.66 238.60,119.95 238.89,120.30 C239.18,120.66 238.94,120.95 238.94,121.36 C238.94,121.77 238.65,122.06 238.87,122.77 C239.10,123.47 239.85,124.35 240.32,125.58 C240.79,126.82 241.42,128.52 241.71,130.16 C241.99,131.80 241.94,133.97 242.02,135.44 C242.10,136.91 242.11,137.90 242.20,138.96 C242.29,140.02 242.63,140.90 242.56,141.78 C242.50,142.66 242.38,143.59 241.84,144.24 C241.30,144.89 240.69,145.35 239.30,145.65 C237.91,145.94 235.43,146.00 233.50,146.00 C231.57,146.00 229.09,145.94 227.70,145.65 C226.31,145.35 225.70,144.89 225.16,144.24 C224.62,143.59 224.50,142.66 224.44,141.78 C224.37,140.90 224.71,140.02 224.80,138.96 C224.89,137.90 224.94,136.91 224.98,135.44 C225.02,133.97 225.01,131.80 225.03,130.16 C225.05,128.52 225.02,126.82 225.09,125.58 C225.16,124.35 225.51,123.47 225.46,122.77 C225.41,122.06 224.98,121.77 224.80,121.36 C224.62,120.95 224.25,120.66 224.39,120.30 C224.52,119.95 225.33,119.66 225.60,119.25 C225.86,118.84 225.86,118.43 225.99,117.84 C226.11,117.25 226.21,116.43 226.37,115.73 C226.52,115.02 226.68,114.26 226.90,113.62 C227.12,112.97 227.30,112.33 227.68,111.86 C228.07,111.39 228.60,110.80 229.20,110.80 Z"/><path id="m21" d="M178.60,160.40 C179.11,160.40 179.76,160.91 180.25,161.32 C180.74,161.73 181.12,162.29 181.53,162.85 C181.93,163.41 182.33,164.07 182.68,164.68 C183.04,165.30 183.38,166.01 183.68,166.52 C183.97,167.03 184.09,167.39 184.43,167.74 C184.78,168.10 185.54,168.36 185.75,168.66 C185.97,168.97 185.74,169.22 185.70,169.58 C185.67,169.94 185.39,170.19 185.53,170.80 C185.67,171.42 186.21,172.18 186.53,173.25 C186.84,174.32 187.24,175.80 187.43,177.23 C187.61,178.66 187.58,180.54 187.64,181.82 C187.70,183.09 187.72,183.96 187.79,184.88 C187.87,185.80 188.15,186.56 188.09,187.33 C188.04,188.09 187.94,188.91 187.49,189.47 C187.03,190.03 186.53,190.44 185.36,190.69 C184.20,190.95 182.12,191.00 180.50,191.00 C178.88,191.00 176.80,190.95 175.64,190.69 C174.47,190.44 173.97,190.03 173.51,189.47 C173.06,188.91 172.96,188.09 172.91,187.33 C172.85,186.56 173.13,185.80 173.21,184.88 C173.28,183.96 173.32,183.09 173.36,181.82 C173.40,180.54 173.39,178.66 173.45,177.23 C173.52,175.80 173.63,174.32 173.77,173.25 C173.91,172.18 174.28,171.42 174.29,170.80 C174.31,170.19 173.97,169.94 173.86,169.58 C173.74,169.22 173.46,168.97 173.60,168.66 C173.74,168.36 174.45,168.10 174.71,167.74 C174.97,167.39 175.01,167.03 175.17,166.52 C175.33,166.01 175.50,165.30 175.70,164.68 C175.90,164.07 176.11,163.41 176.36,162.85 C176.62,162.29 176.84,161.73 177.21,161.32 C177.59,160.91 178.09,160.40 178.60,160.40 Z"/><path id="m22" d="M202.90,157.50 C203.41,157.50 204.11,158.06 204.63,158.50 C205.15,158.95 205.58,159.57 206.03,160.18 C206.47,160.79 206.92,161.52 207.32,162.19 C207.72,162.86 208.11,163.64 208.44,164.20 C208.76,164.76 208.90,165.15 209.27,165.54 C209.64,165.93 210.43,166.21 210.66,166.54 C210.89,166.88 210.68,167.16 210.66,167.55 C210.65,167.94 210.39,168.22 210.56,168.89 C210.73,169.56 211.32,170.40 211.68,171.57 C212.05,172.74 212.53,174.36 212.74,175.93 C212.96,177.49 212.92,179.55 212.99,180.95 C213.05,182.35 213.06,183.30 213.14,184.30 C213.21,185.31 213.49,186.14 213.44,186.98 C213.39,187.82 213.29,188.71 212.83,189.32 C212.37,189.94 211.86,190.39 210.69,190.66 C209.52,190.94 207.43,191.00 205.80,191.00 C204.17,191.00 202.08,190.94 200.91,190.66 C199.74,190.39 199.23,189.94 198.77,189.32 C198.31,188.71 198.21,187.82 198.16,186.98 C198.11,186.14 198.39,185.31 198.46,184.30 C198.54,183.30 198.58,182.35 198.61,180.95 C198.65,179.55 198.64,177.49 198.68,175.93 C198.72,174.36 198.75,172.74 198.84,171.57 C198.94,170.40 199.26,169.56 199.24,168.89 C199.23,168.22 198.87,167.94 198.74,167.55 C198.60,167.16 198.30,166.88 198.43,166.54 C198.55,166.21 199.25,165.93 199.49,165.54 C199.73,165.15 199.74,164.76 199.88,164.20 C200.01,163.64 200.13,162.86 200.28,162.19 C200.44,161.52 200.61,160.79 200.83,160.18 C201.04,159.57 201.23,158.95 201.57,158.50 C201.92,158.06 202.39,157.50 202.90,157.50 Z"/><path id="m23" d="M227.20,157.50 C227.74,157.50 228.49,158.06 229.05,158.50 C229.61,158.95 230.08,159.57 230.57,160.18 C231.05,160.79 231.54,161.52 231.98,162.19 C232.41,162.86 232.84,163.64 233.20,164.20 C233.56,164.76 233.71,165.15 234.11,165.54 C234.51,165.93 235.34,166.21 235.60,166.54 C235.85,166.88 235.63,167.16 235.62,167.55 C235.61,167.94 235.34,168.22 235.53,168.89 C235.72,169.56 236.36,170.40 236.76,171.57 C237.16,172.74 237.69,174.36 237.93,175.93 C238.17,177.49 238.13,179.55 238.20,180.95 C238.27,182.35 238.28,183.30 238.36,184.30 C238.44,185.31 238.74,186.14 238.69,186.98 C238.63,187.82 238.52,188.71 238.04,189.32 C237.55,189.94 237.01,190.39 235.77,190.66 C234.53,190.94 232.32,191.00 230.60,191.00 C228.88,191.00 226.67,190.94 225.43,190.66 C224.19,190.39 223.65,189.94 223.16,189.32 C222.68,188.71 222.57,187.82 222.51,186.98 C222.46,186.14 222.76,185.31 222.84,184.30 C222.92,183.30 222.96,182.35 223.00,180.95 C223.04,179.55 223.03,177.49 223.06,175.93 C223.09,174.36 223.09,172.74 223.18,171.57 C223.26,170.40 223.59,169.56 223.56,168.89 C223.53,168.22 223.16,167.94 223.01,167.55 C222.85,167.16 222.53,166.88 222.66,166.54 C222.79,166.21 223.52,165.93 223.76,165.54 C224.01,165.15 224.02,164.76 224.15,164.20 C224.27,163.64 224.38,162.86 224.54,162.19 C224.69,161.52 224.85,160.79 225.07,160.18 C225.28,159.57 225.46,158.95 225.82,158.50 C226.17,158.06 226.66,157.50 227.20,157.50 Z"/><path id="m24" d="M260.00,26.60 C260.55,26.60 261.28,27.14 261.83,27.57 C262.38,28.00 262.82,28.60 263.29,29.19 C263.76,29.79 264.22,30.49 264.63,31.14 C265.05,31.78 265.46,32.54 265.80,33.08 C266.13,33.62 266.28,34.00 266.67,34.38 C267.06,34.75 267.89,35.02 268.13,35.35 C268.38,35.67 268.15,35.94 268.12,36.32 C268.10,36.70 267.81,36.97 267.99,37.62 C268.16,38.26 268.78,39.07 269.15,40.21 C269.53,41.34 270.02,42.91 270.24,44.42 C270.46,45.93 270.42,47.93 270.49,49.28 C270.56,50.63 270.57,51.55 270.66,52.52 C270.74,53.49 271.04,54.30 270.98,55.11 C270.93,55.92 270.82,56.79 270.33,57.38 C269.84,57.97 269.29,58.41 268.04,58.68 C266.78,58.95 264.55,59.00 262.80,59.00 C261.05,59.00 258.82,58.95 257.56,58.68 C256.31,58.41 255.76,57.97 255.27,57.38 C254.78,56.79 254.67,55.92 254.62,55.11 C254.56,54.30 254.86,53.49 254.94,52.52 C255.03,51.55 255.07,50.63 255.11,49.28 C255.15,47.93 255.14,45.93 255.19,44.42 C255.24,42.91 255.29,41.34 255.41,40.21 C255.52,39.07 255.88,38.26 255.88,37.62 C255.87,36.97 255.50,36.70 255.36,36.32 C255.22,35.94 254.90,35.67 255.04,35.35 C255.18,35.02 255.93,34.75 256.19,34.38 C256.46,34.00 256.48,33.62 256.63,33.08 C256.78,32.54 256.92,31.78 257.11,31.14 C257.29,30.49 257.48,29.79 257.73,29.19 C257.97,28.60 258.18,28.00 258.56,27.57 C258.94,27.14 259.45,26.60 260.00,26.60 Z"/><path id="m25" d="M285.00,27.60 C285.60,27.60 286.45,28.14 287.08,28.57 C287.70,29.00 288.23,29.60 288.77,30.19 C289.32,30.79 289.86,31.49 290.35,32.14 C290.84,32.78 291.32,33.54 291.72,34.08 C292.12,34.62 292.30,35.00 292.74,35.38 C293.19,35.75 294.13,36.02 294.41,36.35 C294.69,36.67 294.44,36.94 294.43,37.32 C294.42,37.70 294.12,37.97 294.33,38.62 C294.54,39.26 295.26,40.07 295.71,41.21 C296.16,42.34 296.75,43.91 297.02,45.42 C297.29,46.93 297.24,48.93 297.32,50.28 C297.40,51.63 297.41,52.55 297.50,53.52 C297.59,54.49 297.93,55.30 297.87,56.11 C297.80,56.92 297.68,57.79 297.14,58.38 C296.60,58.97 295.99,59.41 294.60,59.68 C293.21,59.95 290.73,60.00 288.80,60.00 C286.87,60.00 284.39,59.95 283.00,59.68 C281.61,59.41 281.00,58.97 280.46,58.38 C279.92,57.79 279.80,56.92 279.74,56.11 C279.67,55.30 280.01,54.49 280.10,53.52 C280.19,52.55 280.24,51.63 280.28,50.28 C280.32,48.93 280.31,46.93 280.34,45.42 C280.38,43.91 280.39,42.34 280.48,41.21 C280.58,40.07 280.95,39.26 280.91,38.62 C280.88,37.97 280.46,37.70 280.29,37.32 C280.12,36.94 279.76,36.67 279.90,36.35 C280.04,36.02 280.86,35.75 281.14,35.38 C281.42,35.00 281.42,34.62 281.57,34.08 C281.71,33.54 281.84,32.78 282.01,32.14 C282.18,31.49 282.37,30.79 282.61,30.19 C282.85,29.60 283.05,29.00 283.45,28.57 C283.85,28.14 284.40,27.60 285.00,27.60 Z"/><path id="m26" d="M307.40,26.60 C308.00,26.60 308.92,27.16 309.60,27.60 C310.28,28.05 310.88,28.66 311.50,29.27 C312.12,29.88 312.74,30.61 313.31,31.28 C313.88,31.94 314.44,32.72 314.90,33.28 C315.36,33.84 315.58,34.23 316.06,34.62 C316.55,35.01 317.51,35.28 317.83,35.62 C318.14,35.95 317.92,36.23 317.95,36.62 C317.97,37.01 317.70,37.29 317.97,37.96 C318.24,38.62 319.04,39.46 319.58,40.63 C320.11,41.80 320.84,43.41 321.17,44.97 C321.49,46.53 321.43,48.59 321.52,49.98 C321.61,51.37 321.61,52.32 321.70,53.32 C321.79,54.32 322.13,55.16 322.06,55.99 C322.00,56.83 321.88,57.72 321.34,58.33 C320.80,58.94 320.19,59.39 318.80,59.67 C317.41,59.94 314.93,60.00 313.00,60.00 C311.07,60.00 308.59,59.94 307.20,59.67 C305.81,59.39 305.20,58.94 304.66,58.33 C304.12,57.72 304.00,56.83 303.94,55.99 C303.87,55.16 304.21,54.32 304.30,53.32 C304.39,52.32 304.45,51.37 304.48,49.98 C304.51,48.59 304.51,46.53 304.49,44.97 C304.47,43.41 304.34,41.80 304.35,40.63 C304.36,39.46 304.65,38.62 304.56,37.96 C304.47,37.29 304.01,37.01 303.81,36.62 C303.60,36.23 303.21,35.95 303.32,35.62 C303.43,35.28 304.22,35.01 304.46,34.62 C304.70,34.23 304.66,33.84 304.75,33.28 C304.83,32.72 304.87,31.94 304.97,31.28 C305.07,30.61 305.17,29.88 305.33,29.27 C305.50,28.66 305.63,28.05 305.98,27.60 C306.32,27.16 306.80,26.60 307.40,26.60 Z"/><path id="m27" d="M258.20,70.20 C258.68,70.20 259.35,70.76 259.84,71.21 C260.34,71.66 260.75,72.28 261.17,72.90 C261.60,73.52 262.02,74.26 262.41,74.93 C262.79,75.61 263.16,76.40 263.47,76.96 C263.78,77.52 263.92,77.92 264.27,78.31 C264.62,78.71 265.37,78.99 265.59,79.33 C265.81,79.66 265.61,79.95 265.60,80.34 C265.58,80.73 265.34,81.02 265.50,81.69 C265.66,82.37 266.22,83.21 266.57,84.40 C266.92,85.58 267.38,87.21 267.59,88.79 C267.79,90.37 267.75,92.45 267.82,93.86 C267.88,95.27 267.89,96.23 267.96,97.24 C268.03,98.25 268.30,99.10 268.25,99.94 C268.20,100.79 268.11,101.69 267.67,102.31 C267.24,102.93 266.75,103.38 265.64,103.66 C264.53,103.94 262.55,104.00 261.00,104.00 C259.45,104.00 257.47,103.94 256.36,103.66 C255.25,103.38 254.76,102.93 254.33,102.31 C253.89,101.69 253.80,100.79 253.75,99.94 C253.70,99.10 253.97,98.25 254.04,97.24 C254.11,96.23 254.15,95.27 254.18,93.86 C254.22,92.45 254.21,90.37 254.24,88.79 C254.28,87.21 254.30,85.58 254.39,84.40 C254.48,83.21 254.78,82.37 254.77,81.69 C254.75,81.02 254.41,80.73 254.28,80.34 C254.15,79.95 253.87,79.66 253.99,79.33 C254.10,78.99 254.76,78.71 254.99,78.31 C255.22,77.92 255.23,77.52 255.35,76.96 C255.48,76.40 255.59,75.61 255.73,74.93 C255.88,74.26 256.04,73.52 256.24,72.90 C256.44,72.28 256.62,71.66 256.94,71.21 C257.27,70.76 257.72,70.20 258.20,70.20 Z"/><path id="m28" d="M281.40,68.40 C282.00,68.40 282.76,68.99 283.32,69.47 C283.89,69.94 284.32,70.60 284.77,71.25 C285.23,71.90 285.67,72.67 286.07,73.38 C286.47,74.10 286.84,74.93 287.17,75.52 C287.49,76.11 287.62,76.53 288.02,76.94 C288.42,77.36 289.32,77.66 289.56,78.01 C289.80,78.37 289.52,78.66 289.46,79.08 C289.41,79.50 289.07,79.79 289.21,80.50 C289.35,81.22 289.97,82.11 290.32,83.35 C290.66,84.60 291.09,86.32 291.29,87.98 C291.49,89.64 291.45,91.84 291.52,93.32 C291.59,94.80 291.61,95.81 291.70,96.88 C291.79,97.95 292.13,98.84 292.06,99.73 C292.00,100.62 291.88,101.57 291.34,102.22 C290.80,102.87 290.19,103.35 288.80,103.64 C287.41,103.94 284.93,104.00 283.00,104.00 C281.07,104.00 278.59,103.94 277.20,103.64 C275.81,103.35 275.20,102.87 274.66,102.22 C274.12,101.57 274.00,100.62 273.94,99.73 C273.87,98.84 274.21,97.95 274.30,96.88 C274.39,95.81 274.43,94.80 274.48,93.32 C274.53,91.84 274.51,89.64 274.61,87.98 C274.71,86.32 274.89,84.60 275.09,83.35 C275.29,82.11 275.76,81.22 275.80,80.50 C275.83,79.79 275.45,79.50 275.32,79.08 C275.20,78.66 274.87,78.37 275.06,78.01 C275.24,77.66 276.09,77.36 276.42,76.94 C276.74,76.53 276.80,76.11 277.02,75.52 C277.24,74.93 277.46,74.10 277.73,73.38 C277.99,72.67 278.28,71.90 278.61,71.25 C278.94,70.60 279.23,69.94 279.70,69.47 C280.16,68.99 280.80,68.40 281.40,68.40 Z"/><path id="m29" d="M310.00,70.20 C310.65,70.20 311.56,70.76 312.24,71.21 C312.91,71.66 313.47,72.28 314.06,72.90 C314.64,73.52 315.22,74.26 315.75,74.93 C316.28,75.61 316.79,76.40 317.22,76.96 C317.65,77.52 317.83,77.92 318.32,78.31 C318.80,78.71 319.81,78.99 320.11,79.33 C320.41,79.66 320.14,79.95 320.13,80.34 C320.11,80.73 319.78,81.02 320.01,81.69 C320.24,82.37 321.01,83.21 321.49,84.40 C321.97,85.58 322.61,87.21 322.89,88.79 C323.18,90.37 323.13,92.45 323.21,93.86 C323.30,95.27 323.31,96.23 323.41,97.24 C323.51,98.25 323.87,99.10 323.80,99.94 C323.73,100.79 323.60,101.69 323.02,102.31 C322.43,102.93 321.77,103.38 320.27,103.66 C318.77,103.94 316.09,104.00 314.00,104.00 C311.91,104.00 309.23,103.94 307.73,103.66 C306.23,103.38 305.57,102.93 304.98,102.31 C304.40,101.69 304.27,100.79 304.20,99.94 C304.13,99.10 304.49,98.25 304.59,97.24 C304.69,96.23 304.74,95.27 304.79,93.86 C304.83,92.45 304.82,90.37 304.86,88.79 C304.90,87.21 304.92,85.58 305.03,84.40 C305.13,83.21 305.54,82.37 305.51,81.69 C305.48,81.02 305.02,80.73 304.84,80.34 C304.66,79.95 304.27,79.66 304.43,79.33 C304.58,78.99 305.47,78.71 305.77,78.31 C306.07,77.92 306.08,77.52 306.24,76.96 C306.41,76.40 306.54,75.61 306.73,74.93 C306.93,74.26 307.13,73.52 307.39,72.90 C307.66,72.28 307.88,71.66 308.32,71.21 C308.75,70.76 309.35,70.20 310.00,70.20 Z"/><path id="m30" d="M259.70,114.70 C260.27,114.70 260.96,115.24 261.47,115.67 C261.98,116.10 262.36,116.69 262.76,117.28 C263.16,117.88 263.55,118.58 263.89,119.22 C264.24,119.87 264.56,120.62 264.85,121.16 C265.13,121.70 265.24,122.08 265.60,122.45 C265.96,122.83 266.80,123.10 267.01,123.42 C267.23,123.74 266.95,124.01 266.89,124.39 C266.82,124.77 266.49,125.04 266.60,125.68 C266.71,126.33 267.26,127.14 267.55,128.27 C267.85,129.40 268.20,130.96 268.36,132.47 C268.53,133.97 268.50,135.96 268.56,137.31 C268.62,138.66 268.65,139.57 268.73,140.54 C268.82,141.51 269.13,142.32 269.07,143.12 C269.02,143.93 268.90,144.79 268.39,145.38 C267.87,145.98 267.30,146.41 265.99,146.68 C264.67,146.95 262.33,147.00 260.50,147.00 C258.67,147.00 256.33,146.95 255.01,146.68 C253.70,146.41 253.13,145.98 252.61,145.38 C252.10,144.79 251.98,143.93 251.93,143.12 C251.87,142.32 252.18,141.51 252.27,140.54 C252.35,139.57 252.39,138.66 252.44,137.31 C252.49,135.96 252.47,133.97 252.59,132.47 C252.70,130.96 252.93,129.40 253.15,128.27 C253.37,127.14 253.85,126.33 253.91,125.68 C253.97,125.04 253.61,124.77 253.51,124.39 C253.41,124.01 253.11,123.74 253.29,123.42 C253.48,123.10 254.30,122.83 254.62,122.45 C254.95,122.08 255.01,121.70 255.24,121.16 C255.48,120.62 255.72,119.87 256.00,119.22 C256.28,118.58 256.59,117.88 256.93,117.28 C257.27,116.69 257.58,116.10 258.04,115.67 C258.50,115.24 259.13,114.70 259.70,114.70 Z"/><path id="m31" d="M281.00,113.70 C281.60,113.70 282.43,114.25 283.04,114.70 C283.65,115.14 284.16,115.75 284.68,116.36 C285.21,116.97 285.73,117.70 286.20,118.36 C286.68,119.03 287.14,119.81 287.52,120.36 C287.91,120.91 288.07,121.30 288.51,121.69 C288.94,122.08 289.87,122.36 290.14,122.69 C290.41,123.02 290.16,123.30 290.14,123.69 C290.12,124.08 289.82,124.36 290.02,125.02 C290.22,125.69 290.91,126.52 291.34,127.69 C291.77,128.85 292.33,130.46 292.59,132.02 C292.85,133.57 292.80,135.62 292.88,137.01 C292.95,138.40 292.97,139.34 293.06,140.34 C293.15,141.34 293.48,142.17 293.42,143.00 C293.36,143.84 293.24,144.72 292.69,145.34 C292.15,145.95 291.55,146.39 290.17,146.67 C288.79,146.94 286.32,147.00 284.40,147.00 C282.48,147.00 280.01,146.94 278.63,146.67 C277.25,146.39 276.65,145.95 276.11,145.34 C275.56,144.72 275.44,143.84 275.38,143.00 C275.32,142.17 275.65,141.34 275.74,140.34 C275.83,139.34 275.88,138.40 275.92,137.01 C275.97,135.62 275.96,133.57 276.00,132.02 C276.05,130.46 276.08,128.85 276.20,127.69 C276.31,126.52 276.69,125.69 276.67,125.02 C276.65,124.36 276.24,124.08 276.08,123.69 C275.92,123.30 275.57,123.02 275.71,122.69 C275.86,122.36 276.68,122.08 276.97,121.69 C277.25,121.30 277.27,120.91 277.42,120.36 C277.58,119.81 277.72,119.03 277.91,118.36 C278.10,117.70 278.30,116.97 278.55,116.36 C278.81,115.75 279.02,115.14 279.43,114.70 C279.84,114.25 280.40,113.70 281.00,113.70 Z"/><path id="m32" d="M311.00,112.80 C311.60,112.80 312.40,113.37 312.99,113.83 C313.58,114.28 314.04,114.91 314.54,115.54 C315.03,116.16 315.51,116.90 315.95,117.59 C316.38,118.27 316.80,119.07 317.16,119.64 C317.51,120.21 317.66,120.61 318.08,121.01 C318.50,121.41 319.41,121.69 319.67,122.03 C319.93,122.38 319.66,122.66 319.62,123.06 C319.58,123.46 319.26,123.74 319.43,124.43 C319.60,125.11 320.26,125.97 320.65,127.16 C321.04,128.36 321.53,130.01 321.76,131.61 C321.99,133.21 321.95,135.31 322.02,136.74 C322.09,138.17 322.11,139.13 322.20,140.16 C322.29,141.19 322.63,142.04 322.56,142.90 C322.50,143.75 322.38,144.66 321.84,145.29 C321.30,145.92 320.69,146.37 319.30,146.66 C317.91,146.94 315.43,147.00 313.50,147.00 C311.57,147.00 309.09,146.94 307.70,146.66 C306.31,146.37 305.70,145.92 305.16,145.29 C304.62,144.66 304.50,143.75 304.44,142.90 C304.37,142.04 304.71,141.19 304.80,140.16 C304.89,139.13 304.93,138.17 304.98,136.74 C305.03,135.31 305.01,133.21 305.08,131.61 C305.16,130.01 305.27,128.36 305.42,127.16 C305.58,125.97 306.01,125.11 306.02,124.43 C306.03,123.74 305.62,123.46 305.48,123.06 C305.34,122.66 305.00,122.38 305.17,122.03 C305.33,121.69 306.17,121.41 306.48,121.01 C306.78,120.61 306.82,120.21 307.01,119.64 C307.19,119.07 307.38,118.27 307.61,117.59 C307.83,116.90 308.08,116.16 308.37,115.54 C308.66,114.91 308.92,114.28 309.36,113.83 C309.80,113.37 310.40,112.80 311.00,112.80 Z"/><path id="m33" d="M260.60,156.50 C261.11,156.50 261.68,157.07 262.11,157.53 C262.54,158.00 262.84,158.63 263.16,159.26 C263.49,159.89 263.79,160.64 264.06,161.33 C264.34,162.02 264.59,162.83 264.81,163.40 C265.03,163.97 265.11,164.38 265.41,164.78 C265.71,165.18 266.44,165.47 266.62,165.81 C266.79,166.16 266.54,166.45 266.46,166.85 C266.38,167.25 266.08,167.54 266.15,168.23 C266.22,168.92 266.68,169.78 266.90,170.99 C267.12,172.20 267.37,173.87 267.49,175.47 C267.61,177.08 267.59,179.21 267.64,180.65 C267.69,182.09 267.72,183.06 267.79,184.10 C267.87,185.13 268.15,186.00 268.10,186.86 C268.04,187.72 267.94,188.64 267.49,189.28 C267.03,189.91 266.53,190.37 265.36,190.66 C264.20,190.94 262.12,191.00 260.50,191.00 C258.88,191.00 256.80,190.94 255.64,190.66 C254.47,190.37 253.97,189.91 253.51,189.28 C253.06,188.64 252.96,187.72 252.91,186.86 C252.85,186.00 253.13,185.13 253.21,184.10 C253.28,183.06 253.31,182.09 253.36,180.65 C253.41,179.21 253.39,177.08 253.52,175.47 C253.65,173.87 253.91,172.20 254.14,170.99 C254.37,169.78 254.83,168.92 254.91,168.23 C254.99,167.54 254.69,167.25 254.61,166.85 C254.54,166.45 254.29,166.16 254.47,165.81 C254.65,165.47 255.38,165.18 255.69,164.78 C255.99,164.38 256.07,163.97 256.30,163.40 C256.53,162.83 256.79,162.02 257.08,161.33 C257.36,160.64 257.67,159.89 258.00,159.26 C258.33,158.63 258.64,158.00 259.07,157.53 C259.51,157.07 260.09,156.50 260.60,156.50 Z"/><path id="m34" d="M281.00,156.50 C281.54,156.50 282.34,157.07 282.94,157.53 C283.54,158.00 284.05,158.63 284.58,159.26 C285.12,159.89 285.65,160.64 286.14,161.33 C286.63,162.02 287.11,162.83 287.50,163.40 C287.90,163.97 288.08,164.38 288.50,164.78 C288.93,165.18 289.79,165.47 290.06,165.81 C290.33,166.16 290.13,166.45 290.14,166.85 C290.15,167.25 289.90,167.54 290.12,168.23 C290.35,168.92 291.05,169.78 291.50,170.99 C291.95,172.20 292.57,173.87 292.84,175.47 C293.12,177.08 293.07,179.21 293.15,180.65 C293.22,182.09 293.23,183.06 293.31,184.10 C293.39,185.13 293.69,186.00 293.63,186.86 C293.58,187.72 293.47,188.64 292.98,189.28 C292.50,189.91 291.95,190.37 290.71,190.66 C289.46,190.94 287.24,191.00 285.50,191.00 C283.76,191.00 281.54,190.94 280.29,190.66 C279.05,190.37 278.50,189.91 278.02,189.28 C277.53,188.64 277.42,187.72 277.37,186.86 C277.31,186.00 277.61,185.13 277.69,184.10 C277.77,183.06 277.82,182.09 277.85,180.65 C277.89,179.21 277.88,177.08 277.88,175.47 C277.87,173.87 277.80,172.20 277.83,170.99 C277.87,169.78 278.15,168.92 278.09,168.23 C278.02,167.54 277.62,167.25 277.45,166.85 C277.28,166.45 276.94,166.16 277.04,165.81 C277.15,165.47 277.87,165.18 278.09,164.78 C278.32,164.38 278.30,163.97 278.39,163.40 C278.49,162.83 278.55,162.02 278.66,161.33 C278.77,160.64 278.88,159.89 279.05,159.26 C279.22,158.63 279.36,158.00 279.69,157.53 C280.01,157.07 280.46,156.50 281.00,156.50 Z"/><path id="m35" d="M310.00,154.50 C310.60,154.50 311.44,155.11 312.06,155.59 C312.68,156.08 313.18,156.75 313.72,157.42 C314.25,158.09 314.78,158.88 315.26,159.61 C315.74,160.34 316.20,161.19 316.59,161.80 C316.98,162.41 317.15,162.83 317.59,163.26 C318.03,163.69 318.96,163.99 319.24,164.35 C319.51,164.72 319.26,165.02 319.24,165.45 C319.23,165.88 318.92,166.18 319.12,166.91 C319.33,167.64 320.03,168.55 320.47,169.83 C320.90,171.11 321.47,172.87 321.73,174.57 C321.99,176.28 321.94,178.53 322.02,180.05 C322.10,181.57 322.11,182.60 322.20,183.70 C322.29,184.79 322.63,185.71 322.56,186.62 C322.50,187.53 322.38,188.51 321.84,189.18 C321.30,189.84 320.69,190.33 319.30,190.63 C317.91,190.94 315.43,191.00 313.50,191.00 C311.57,191.00 309.09,190.94 307.70,190.63 C306.31,190.33 305.70,189.84 305.16,189.18 C304.62,188.51 304.50,187.53 304.44,186.62 C304.37,185.71 304.71,184.79 304.80,183.70 C304.89,182.60 304.94,181.57 304.98,180.05 C305.02,178.53 305.01,176.28 305.05,174.57 C305.10,172.87 305.13,171.11 305.24,169.83 C305.35,168.55 305.73,167.64 305.71,166.91 C305.68,166.18 305.27,165.88 305.10,165.45 C304.94,165.02 304.59,164.72 304.73,164.35 C304.88,163.99 305.70,163.69 305.99,163.26 C306.27,162.83 306.28,162.41 306.44,161.80 C306.59,161.19 306.73,160.34 306.92,159.61 C307.10,158.88 307.30,158.09 307.55,157.42 C307.81,156.75 308.02,156.08 308.43,155.59 C308.84,155.11 309.40,154.50 310.00,154.50 Z"/><path id="m36" d="M342.70,24.80 C343.25,24.80 343.98,25.37 344.53,25.83 C345.08,26.28 345.52,26.91 345.99,27.54 C346.46,28.16 346.92,28.90 347.33,29.59 C347.75,30.27 348.16,31.07 348.50,31.64 C348.83,32.21 348.98,32.61 349.37,33.01 C349.76,33.41 350.59,33.69 350.83,34.03 C351.08,34.38 350.85,34.66 350.82,35.06 C350.80,35.46 350.51,35.74 350.69,36.43 C350.86,37.11 351.48,37.97 351.85,39.16 C352.23,40.36 352.72,42.01 352.94,43.61 C353.16,45.21 353.12,47.31 353.19,48.74 C353.26,50.17 353.27,51.13 353.36,52.16 C353.44,53.19 353.74,54.04 353.68,54.90 C353.63,55.75 353.52,56.66 353.03,57.29 C352.54,57.92 351.99,58.37 350.74,58.66 C349.48,58.94 347.25,59.00 345.50,59.00 C343.75,59.00 341.52,58.94 340.26,58.66 C339.01,58.37 338.46,57.92 337.97,57.29 C337.48,56.66 337.37,55.75 337.32,54.90 C337.26,54.04 337.56,53.19 337.64,52.16 C337.73,51.13 337.77,50.17 337.81,48.74 C337.85,47.31 337.84,45.21 337.89,43.61 C337.94,42.01 337.99,40.36 338.11,39.16 C338.22,37.97 338.58,37.11 338.58,36.43 C338.57,35.74 338.20,35.46 338.06,35.06 C337.92,34.66 337.60,34.38 337.74,34.03 C337.88,33.69 338.63,33.41 338.89,33.01 C339.16,32.61 339.18,32.21 339.33,31.64 C339.48,31.07 339.62,30.27 339.81,29.59 C339.99,28.90 340.18,28.16 340.43,27.54 C340.67,26.91 340.88,26.28 341.26,25.83 C341.64,25.37 342.15,24.80 342.70,24.80 Z"/><path id="m37" d="M363.20,26.60 C363.72,26.60 364.40,27.14 364.91,27.57 C365.42,28.00 365.82,28.60 366.25,29.19 C366.68,29.79 367.10,30.49 367.48,31.14 C367.86,31.78 368.22,32.54 368.53,33.08 C368.84,33.62 368.97,34.00 369.33,34.38 C369.69,34.75 370.47,35.02 370.70,35.35 C370.92,35.67 370.70,35.94 370.67,36.32 C370.64,36.70 370.36,36.97 370.52,37.62 C370.67,38.26 371.24,39.07 371.58,40.21 C371.92,41.34 372.35,42.91 372.55,44.42 C372.75,45.93 372.71,47.93 372.78,49.28 C372.84,50.63 372.85,51.55 372.93,52.52 C373.01,53.49 373.29,54.30 373.24,55.11 C373.19,55.92 373.09,56.79 372.62,57.38 C372.16,57.97 371.64,58.41 370.45,58.68 C369.27,58.95 367.15,59.00 365.50,59.00 C363.85,59.00 361.73,58.95 360.55,58.68 C359.36,58.41 358.84,57.97 358.38,57.38 C357.91,56.79 357.81,55.92 357.76,55.11 C357.71,54.30 357.99,53.49 358.07,52.52 C358.15,51.55 358.18,50.63 358.22,49.28 C358.26,47.93 358.25,45.93 358.31,44.42 C358.36,42.91 358.45,41.34 358.57,40.21 C358.70,39.07 359.05,38.26 359.06,37.62 C359.06,36.97 358.71,36.70 358.59,36.32 C358.47,35.94 358.17,35.67 358.31,35.35 C358.45,35.02 359.16,34.75 359.42,34.38 C359.68,34.00 359.71,33.62 359.86,33.08 C360.02,32.54 360.17,31.78 360.35,31.14 C360.54,30.49 360.74,29.79 360.99,29.19 C361.23,28.60 361.44,28.00 361.81,27.57 C362.18,27.14 362.68,26.60 363.20,26.60 Z"/><path id="m38" d="M391.00,29.40 C391.52,29.40 392.20,29.93 392.71,30.35 C393.23,30.77 393.64,31.35 394.07,31.93 C394.50,32.51 394.92,33.19 395.31,33.82 C395.69,34.46 396.06,35.19 396.38,35.72 C396.69,36.25 396.82,36.62 397.18,36.98 C397.54,37.35 398.33,37.62 398.55,37.93 C398.78,38.25 398.56,38.51 398.53,38.88 C398.50,39.25 398.23,39.51 398.38,40.14 C398.54,40.78 399.11,41.57 399.46,42.67 C399.80,43.78 400.25,45.31 400.45,46.78 C400.65,48.25 400.61,50.20 400.68,51.52 C400.74,52.84 400.75,53.73 400.83,54.68 C400.91,55.63 401.19,56.42 401.14,57.21 C401.09,58.00 400.99,58.84 400.52,59.42 C400.06,60.00 399.54,60.42 398.35,60.68 C397.17,60.95 395.05,61.00 393.40,61.00 C391.75,61.00 389.63,60.95 388.45,60.68 C387.26,60.42 386.74,60.00 386.28,59.42 C385.81,58.84 385.71,58.00 385.66,57.21 C385.61,56.42 385.89,55.63 385.97,54.68 C386.05,53.73 386.08,52.84 386.12,51.52 C386.16,50.20 386.15,48.25 386.20,46.78 C386.26,45.31 386.33,43.78 386.45,42.67 C386.57,41.57 386.93,40.78 386.93,40.14 C386.93,39.51 386.58,39.25 386.45,38.88 C386.33,38.51 386.03,38.25 386.17,37.93 C386.30,37.62 387.02,37.35 387.27,36.98 C387.53,36.62 387.55,36.25 387.70,35.72 C387.86,35.19 388.00,34.46 388.18,33.82 C388.37,33.19 388.56,32.51 388.80,31.93 C389.04,31.35 389.25,30.77 389.62,30.35 C389.98,29.93 390.48,29.40 391.00,29.40 Z"/><path id="m39" d="M333.40,69.40 C333.95,69.40 334.67,69.98 335.22,70.44 C335.76,70.90 336.20,71.53 336.65,72.17 C337.11,72.80 337.56,73.55 337.97,74.24 C338.38,74.94 338.78,75.74 339.11,76.32 C339.44,76.90 339.58,77.30 339.97,77.70 C340.35,78.11 341.18,78.40 341.42,78.74 C341.66,79.09 341.43,79.38 341.40,79.78 C341.37,80.18 341.08,80.47 341.25,81.16 C341.41,81.86 342.03,82.72 342.39,83.93 C342.76,85.14 343.23,86.82 343.45,88.43 C343.66,90.04 343.62,92.18 343.69,93.62 C343.76,95.06 343.77,96.04 343.86,97.08 C343.94,98.12 344.24,98.98 344.18,99.85 C344.13,100.71 344.02,101.64 343.53,102.27 C343.04,102.90 342.49,103.37 341.24,103.65 C339.98,103.94 337.75,104.00 336.00,104.00 C334.25,104.00 332.02,103.94 330.76,103.65 C329.51,103.37 328.96,102.90 328.47,102.27 C327.98,101.64 327.87,100.71 327.82,99.85 C327.76,98.98 328.06,98.12 328.14,97.08 C328.23,96.04 328.27,95.06 328.31,93.62 C328.35,92.18 328.34,90.04 328.39,88.43 C328.45,86.82 328.52,85.14 328.64,83.93 C328.77,82.72 329.14,81.86 329.14,81.16 C329.14,80.47 328.77,80.18 328.63,79.78 C328.50,79.38 328.18,79.09 328.33,78.74 C328.47,78.40 329.22,78.11 329.49,77.70 C329.76,77.30 329.78,76.90 329.94,76.32 C330.10,75.74 330.25,74.94 330.44,74.24 C330.63,73.55 330.84,72.80 331.09,72.17 C331.34,71.53 331.56,70.90 331.94,70.44 C332.33,69.98 332.85,69.40 333.40,69.40 Z"/><path id="m40" d="M360.40,71.30 C360.98,71.30 361.88,71.84 362.56,72.28 C363.23,72.72 363.84,73.32 364.46,73.92 C365.08,74.52 365.71,75.22 366.28,75.88 C366.86,76.53 367.44,77.30 367.90,77.84 C368.36,78.39 368.58,78.77 369.07,79.15 C369.55,79.53 370.48,79.80 370.80,80.13 C371.11,80.46 370.92,80.73 370.95,81.11 C370.99,81.49 370.74,81.76 371.03,82.42 C371.31,83.07 372.11,83.89 372.65,85.03 C373.20,86.18 373.96,87.76 374.29,89.28 C374.62,90.81 374.56,92.83 374.65,94.19 C374.74,95.55 374.74,96.48 374.83,97.46 C374.91,98.44 375.23,99.26 375.17,100.08 C375.12,100.89 375.00,101.77 374.48,102.36 C373.96,102.96 373.38,103.40 372.05,103.67 C370.72,103.95 368.35,104.00 366.50,104.00 C364.65,104.00 362.28,103.95 360.95,103.67 C359.62,103.40 359.04,102.96 358.52,102.36 C358.00,101.77 357.88,100.89 357.83,100.08 C357.77,99.26 358.09,98.44 358.17,97.46 C358.26,96.48 358.32,95.55 358.35,94.19 C358.37,92.83 358.38,90.81 358.33,89.28 C358.29,87.76 358.11,86.18 358.08,85.03 C358.06,83.89 358.30,83.07 358.19,82.42 C358.08,81.76 357.64,81.49 357.42,81.11 C357.21,80.73 356.83,80.46 356.92,80.13 C357.01,79.80 357.75,79.53 357.97,79.15 C358.18,78.77 358.13,78.39 358.19,77.84 C358.24,77.30 358.24,76.53 358.31,75.88 C358.37,75.22 358.43,74.52 358.56,73.92 C358.69,73.32 358.78,72.72 359.09,72.28 C359.39,71.84 359.82,71.30 360.40,71.30 Z"/><path id="m41" d="M390.10,74.00 C390.71,74.00 391.66,74.52 392.37,74.93 C393.09,75.34 393.72,75.91 394.38,76.48 C395.04,77.05 395.70,77.72 396.31,78.34 C396.92,78.96 397.53,79.68 398.02,80.20 C398.51,80.72 398.74,81.08 399.25,81.44 C399.76,81.80 400.74,82.06 401.08,82.37 C401.41,82.68 401.20,82.94 401.25,83.30 C401.29,83.66 401.03,83.92 401.33,84.54 C401.63,85.16 402.48,85.94 403.05,87.02 C403.63,88.10 404.43,89.60 404.78,91.05 C405.14,92.50 405.07,94.41 405.17,95.70 C405.26,96.99 405.26,97.87 405.35,98.80 C405.44,99.73 405.77,100.50 405.71,101.28 C405.65,102.06 405.53,102.88 404.98,103.45 C404.44,104.02 403.83,104.43 402.43,104.69 C401.04,104.95 398.54,105.00 396.60,105.00 C394.66,105.00 392.16,104.95 390.77,104.69 C389.37,104.43 388.76,104.02 388.22,103.45 C387.67,102.88 387.55,102.06 387.49,101.28 C387.43,100.50 387.76,99.73 387.85,98.80 C387.94,97.87 388.01,96.99 388.03,95.70 C388.06,94.41 388.06,92.50 388.01,91.05 C387.97,89.60 387.77,88.10 387.74,87.02 C387.71,85.94 387.96,85.16 387.84,84.54 C387.72,83.92 387.25,83.66 387.03,83.30 C386.80,82.94 386.40,82.68 386.49,82.37 C386.59,82.06 387.37,81.80 387.59,81.44 C387.81,81.08 387.76,80.72 387.81,80.20 C387.87,79.68 387.87,78.96 387.93,78.34 C387.99,77.72 388.05,77.05 388.18,76.48 C388.31,75.91 388.41,75.34 388.73,74.93 C389.05,74.52 389.49,74.00 390.10,74.00 Z"/><path id="m42" d="M341.50,113.70 C342.04,113.70 342.80,114.25 343.36,114.70 C343.92,115.14 344.39,115.75 344.88,116.36 C345.38,116.97 345.86,117.70 346.31,118.36 C346.75,119.03 347.18,119.81 347.54,120.36 C347.90,120.91 348.06,121.30 348.46,121.69 C348.86,122.08 349.70,122.36 349.95,122.69 C350.21,123.02 349.99,123.30 349.98,123.69 C349.97,124.08 349.70,124.36 349.90,125.02 C350.09,125.69 350.74,126.52 351.14,127.69 C351.55,128.85 352.09,130.46 352.33,132.02 C352.57,133.57 352.53,135.62 352.60,137.01 C352.67,138.40 352.68,139.34 352.76,140.34 C352.84,141.34 353.14,142.17 353.08,143.00 C353.03,143.84 352.92,144.72 352.44,145.34 C351.95,145.95 351.41,146.39 350.17,146.67 C348.93,146.94 346.72,147.00 345.00,147.00 C343.28,147.00 341.07,146.94 339.83,146.67 C338.59,146.39 338.05,145.95 337.56,145.34 C337.08,144.72 336.97,143.84 336.92,143.00 C336.86,142.17 337.16,141.34 337.24,140.34 C337.32,139.34 337.36,138.40 337.40,137.01 C337.44,135.62 337.43,133.57 337.45,132.02 C337.48,130.46 337.48,128.85 337.56,127.69 C337.64,126.52 337.96,125.69 337.93,125.02 C337.90,124.36 337.52,124.08 337.37,123.69 C337.21,123.30 336.89,123.02 337.02,122.69 C337.14,122.36 337.87,122.08 338.11,121.69 C338.36,121.30 338.36,120.91 338.49,120.36 C338.61,119.81 338.72,119.03 338.87,118.36 C339.02,117.70 339.18,116.97 339.39,116.36 C339.60,115.75 339.77,115.14 340.13,114.70 C340.48,114.25 340.96,113.70 341.50,113.70 Z"/><path id="m43" d="M364.80,113.70 C365.34,113.70 366.12,114.25 366.70,114.70 C367.28,115.14 367.78,115.75 368.29,116.36 C368.81,116.97 369.33,117.70 369.80,118.36 C370.27,119.03 370.74,119.81 371.12,120.36 C371.50,120.91 371.67,121.30 372.09,121.69 C372.50,122.08 373.35,122.36 373.61,122.69 C373.87,123.02 373.67,123.30 373.68,123.69 C373.68,124.08 373.43,124.36 373.64,125.02 C373.86,125.69 374.54,126.52 374.97,127.69 C375.41,128.85 376.00,130.46 376.26,132.02 C376.53,133.57 376.48,135.62 376.55,137.01 C376.63,138.40 376.63,139.34 376.71,140.34 C376.79,141.34 377.09,142.17 377.04,143.00 C376.98,143.84 376.88,144.72 376.39,145.34 C375.91,145.95 375.38,146.39 374.14,146.67 C372.91,146.94 370.71,147.00 369.00,147.00 C367.29,147.00 365.09,146.94 363.86,146.67 C362.62,146.39 362.09,145.95 361.61,145.34 C361.12,144.72 361.02,143.84 360.96,143.00 C360.91,142.17 361.21,141.34 361.29,140.34 C361.37,139.34 361.41,138.40 361.45,137.01 C361.48,135.62 361.47,133.57 361.48,132.02 C361.48,130.46 361.43,128.85 361.47,127.69 C361.52,126.52 361.81,125.69 361.75,125.02 C361.70,124.36 361.31,124.08 361.14,123.69 C360.97,123.30 360.64,123.02 360.75,122.69 C360.86,122.36 361.57,122.08 361.80,121.69 C362.03,121.30 362.02,120.91 362.12,120.36 C362.22,119.81 362.29,119.03 362.41,118.36 C362.53,117.70 362.65,116.97 362.83,116.36 C363.01,115.75 363.16,115.14 363.48,114.70 C363.81,114.25 364.26,113.70 364.80,113.70 Z"/><path id="m44" d="M391.00,115.70 C391.54,115.70 392.39,116.24 393.03,116.67 C393.67,117.10 394.25,117.69 394.84,118.28 C395.43,118.88 396.03,119.58 396.58,120.22 C397.13,120.87 397.68,121.62 398.13,122.16 C398.57,122.70 398.78,123.08 399.24,123.45 C399.70,123.83 400.57,124.10 400.87,124.42 C401.17,124.74 400.99,125.01 401.03,125.39 C401.07,125.77 400.85,126.04 401.12,126.68 C401.40,127.33 402.16,128.14 402.68,129.27 C403.20,130.40 403.93,131.96 404.25,133.47 C404.57,134.97 404.52,136.96 404.60,138.31 C404.68,139.66 404.68,140.57 404.76,141.54 C404.84,142.51 405.14,143.32 405.08,144.12 C405.03,144.93 404.92,145.79 404.44,146.38 C403.95,146.98 403.41,147.41 402.17,147.68 C400.93,147.95 398.72,148.00 397.00,148.00 C395.28,148.00 393.07,147.95 391.83,147.68 C390.59,147.41 390.05,146.98 389.56,146.38 C389.08,145.79 388.97,144.93 388.92,144.12 C388.86,143.32 389.16,142.51 389.24,141.54 C389.32,140.57 389.38,139.66 389.40,138.31 C389.42,136.96 389.43,134.97 389.38,133.47 C389.33,131.96 389.13,130.40 389.10,129.27 C389.06,128.14 389.27,127.33 389.16,126.68 C389.04,126.04 388.62,125.77 388.42,125.39 C388.22,125.01 387.86,124.74 387.93,124.42 C388.01,124.10 388.70,123.83 388.89,123.45 C389.08,123.08 389.03,122.70 389.07,122.16 C389.11,121.62 389.10,120.87 389.14,120.22 C389.19,119.58 389.23,118.88 389.34,118.28 C389.45,117.69 389.52,117.10 389.80,116.67 C390.08,116.24 390.46,115.70 391.00,115.70 Z"/><path id="m45" d="M336.70,157.40 C337.21,157.40 337.82,157.96 338.28,158.41 C338.74,158.86 339.08,159.47 339.45,160.09 C339.81,160.70 340.16,161.43 340.47,162.10 C340.79,162.78 341.09,163.56 341.34,164.12 C341.60,164.68 341.70,165.07 342.02,165.46 C342.34,165.86 343.09,166.14 343.29,166.47 C343.48,166.81 343.24,167.09 343.18,167.48 C343.13,167.87 342.84,168.15 342.94,168.82 C343.05,169.50 343.54,170.34 343.81,171.51 C344.08,172.69 344.41,174.31 344.56,175.88 C344.71,177.45 344.68,179.52 344.74,180.92 C344.79,182.32 344.82,183.27 344.89,184.28 C344.97,185.29 345.25,186.13 345.20,186.97 C345.14,187.81 345.04,188.70 344.59,189.32 C344.13,189.94 343.63,190.38 342.46,190.66 C341.30,190.94 339.22,191.00 337.60,191.00 C335.98,191.00 333.90,190.94 332.74,190.66 C331.57,190.38 331.07,189.94 330.61,189.32 C330.16,188.70 330.06,187.81 330.00,186.97 C329.95,186.13 330.23,185.29 330.31,184.28 C330.38,183.27 330.41,182.32 330.46,180.92 C330.51,179.52 330.49,177.45 330.58,175.88 C330.68,174.31 330.87,172.69 331.05,171.51 C331.24,170.34 331.65,169.50 331.70,168.82 C331.75,168.15 331.43,167.87 331.33,167.48 C331.24,167.09 330.97,166.81 331.13,166.47 C331.29,166.14 332.02,165.86 332.30,165.46 C332.58,165.07 332.64,164.68 332.84,164.12 C333.03,163.56 333.25,162.78 333.49,162.10 C333.73,161.43 333.99,160.70 334.28,160.09 C334.57,159.47 334.84,158.86 335.24,158.41 C335.65,157.96 336.19,157.40 336.70,157.40 Z"/><path id="m46" d="M361.90,160.30 C362.44,160.30 363.19,160.83 363.75,161.25 C364.31,161.67 364.78,162.25 365.27,162.84 C365.75,163.42 366.24,164.10 366.68,164.74 C367.11,165.37 367.54,166.11 367.90,166.64 C368.26,167.17 368.41,167.54 368.81,167.91 C369.21,168.28 370.04,168.54 370.30,168.86 C370.55,169.18 370.33,169.44 370.32,169.81 C370.31,170.18 370.04,170.44 370.23,171.08 C370.42,171.71 371.06,172.50 371.46,173.61 C371.86,174.72 372.39,176.26 372.63,177.74 C372.87,179.21 372.83,181.17 372.90,182.49 C372.97,183.81 372.98,184.71 373.06,185.66 C373.14,186.61 373.44,187.40 373.38,188.20 C373.33,188.99 373.22,189.83 372.74,190.41 C372.25,191.00 371.71,191.42 370.47,191.68 C369.23,191.95 367.02,192.00 365.30,192.00 C363.58,192.00 361.37,191.95 360.13,191.68 C358.89,191.42 358.35,191.00 357.86,190.41 C357.38,189.83 357.27,188.99 357.22,188.20 C357.16,187.40 357.46,186.61 357.54,185.66 C357.62,184.71 357.66,183.81 357.70,182.49 C357.74,181.17 357.73,179.21 357.76,177.74 C357.79,176.26 357.79,174.72 357.88,173.61 C357.96,172.50 358.29,171.71 358.26,171.08 C358.23,170.44 357.86,170.18 357.71,169.81 C357.55,169.44 357.23,169.18 357.36,168.86 C357.49,168.54 358.22,168.28 358.46,167.91 C358.71,167.54 358.72,167.17 358.85,166.64 C358.97,166.11 359.08,165.37 359.24,164.74 C359.39,164.10 359.55,163.42 359.77,162.84 C359.98,162.25 360.16,161.67 360.52,161.25 C360.87,160.83 361.36,160.30 361.90,160.30 Z"/><path id="m47" d="M392.00,162.20 C392.54,162.20 393.33,162.71 393.92,163.12 C394.52,163.53 395.02,164.10 395.55,164.66 C396.07,165.23 396.60,165.90 397.08,166.51 C397.56,167.13 398.03,167.85 398.42,168.36 C398.81,168.87 398.98,169.23 399.40,169.59 C399.82,169.95 400.68,170.21 400.95,170.52 C401.21,170.82 401.01,171.08 401.02,171.44 C401.02,171.80 400.77,172.06 400.99,172.67 C401.21,173.29 401.89,174.06 402.34,175.14 C402.78,176.21 403.38,177.70 403.65,179.14 C403.92,180.58 403.87,182.48 403.95,183.76 C404.02,185.04 404.03,185.92 404.11,186.84 C404.19,187.76 404.49,188.53 404.43,189.30 C404.38,190.07 404.27,190.90 403.78,191.46 C403.30,192.02 402.75,192.44 401.51,192.69 C400.26,192.95 398.04,193.00 396.30,193.00 C394.56,193.00 392.34,192.95 391.09,192.69 C389.85,192.44 389.30,192.02 388.82,191.46 C388.33,190.90 388.22,190.07 388.17,189.30 C388.11,188.53 388.41,187.76 388.49,186.84 C388.57,185.92 388.62,185.04 388.65,183.76 C388.69,182.48 388.68,180.58 388.68,179.14 C388.69,177.70 388.63,176.21 388.67,175.14 C388.71,174.06 389.00,173.29 388.95,172.67 C388.89,172.06 388.50,171.80 388.33,171.44 C388.16,171.08 387.82,170.82 387.93,170.52 C388.04,170.21 388.76,169.95 388.99,169.59 C389.22,169.23 389.21,168.87 389.31,168.36 C389.41,167.85 389.48,167.13 389.59,166.51 C389.71,165.90 389.84,165.23 390.02,164.66 C390.19,164.10 390.34,163.53 390.67,163.12 C391.00,162.71 391.46,162.20 392.00,162.20 Z"/></defs>
<g filter="url(#tex)">
<path d="M93.58,56.20 L87.29,59.00 M105.42,56.20 L111.71,59.00" stroke="#dcdcdc" stroke-width="1.5" stroke-linecap="round" fill="none"/><path d="M99.50,57.00 L99.50,63.00" stroke="#c8c8c8" stroke-width="1.1" fill="none"/>
<use href="#m0" fill="url(#mg)"/>
<path d="M118.42,56.20 L111.96,59.00 M130.58,56.20 L137.04,59.00" stroke="#dcdcdc" stroke-width="1.5" stroke-linecap="round" fill="none"/><path d="M124.50,57.00 L124.50,63.00" stroke="#c8c8c8" stroke-width="1.1" fill="none"/>
<use href="#m1" fill="url(#mg)"/>
<path d="M146.71,56.20 L140.46,59.00 M158.49,56.20 L164.74,59.00" stroke="#dcdcdc" stroke-width="1.5" stroke-linecap="round" fill="none"/><path d="M152.60,57.00 L152.60,63.00" stroke="#c8c8c8" stroke-width="1.1" fill="none"/>
<use href="#m2" fill="url(#mg)"/>
<path d="M97.37,99.20 L91.38,102.00 M108.63,99.20 L114.62,102.00" stroke="#dcdcdc" stroke-width="1.5" stroke-linecap="round" fill="none"/><path d="M103.00,100.00 L103.00,106.00" stroke="#c8c8c8" stroke-width="1.1" fill="none"/>
<use href="#m3" fill="url(#mg)"/>
<path d="M121.06,99.20 L115.28,102.00 M131.94,99.20 L137.72,102.00" stroke="#dcdcdc" stroke-width="1.5" stroke-linecap="round" fill="none"/><path d="M126.50,100.00 L126.50,106.00" stroke="#c8c8c8" stroke-width="1.1" fill="none"/>
<use href="#m4" fill="url(#mg)"/>
<path d="M145.84,99.20 L139.82,102.00 M157.16,99.20 L163.18,102.00" stroke="#dcdcdc" stroke-width="1.5" stroke-linecap="round" fill="none"/><path d="M151.50,100.00 L151.50,106.00" stroke="#c8c8c8" stroke-width="1.1" fill="none"/>
<use href="#m5" fill="url(#mg)"/>
<path d="M95.91,144.20 L89.66,147.00 M107.69,144.20 L113.94,147.00" stroke="#dcdcdc" stroke-width="1.5" stroke-linecap="round" fill="none"/><path d="M101.80,145.00 L101.80,151.00" stroke="#c8c8c8" stroke-width="1.1" fill="none"/>
<use href="#m6" fill="url(#mg)"/>
<path d="M120.58,144.20 L114.29,147.00 M132.42,144.20 L138.71,147.00" stroke="#dcdcdc" stroke-width="1.5" stroke-linecap="round" fill="none"/><path d="M126.50,145.00 L126.50,151.00" stroke="#c8c8c8" stroke-width="1.1" fill="none"/>
<use href="#m7" fill="url(#mg)"/>
<path d="M146.10,144.20 L139.30,147.00 M158.90,144.20 L165.70,147.00" stroke="#dcdcdc" stroke-width="1.5" stroke-linecap="round" fill="none"/><path d="M152.50,145.00 L152.50,151.00" stroke="#c8c8c8" stroke-width="1.1" fill="none"/>
<use href="#m8" fill="url(#mg)"/>
<path d="M95.72,188.20 L90.11,191.00 M106.28,188.20 L111.89,191.00" stroke="#dcdcdc" stroke-width="1.5" stroke-linecap="round" fill="none"/><path d="M101.00,189.00 L101.00,195.00" stroke="#c8c8c8" stroke-width="1.1" fill="none"/>
<use href="#m9" fill="url(#mg)"/>
<path d="M120.08,188.20 L113.79,191.00 M131.92,188.20 L138.21,191.00" stroke="#dcdcdc" stroke-width="1.5" stroke-linecap="round" fill="none"/><path d="M126.00,189.00 L126.00,195.00" stroke="#c8c8c8" stroke-width="1.1" fill="none"/>
<use href="#m10" fill="url(#mg)"/>
<path d="M146.56,188.20 L140.78,191.00 M157.44,188.20 L163.22,191.00" stroke="#dcdcdc" stroke-width="1.5" stroke-linecap="round" fill="none"/><path d="M152.00,189.00 L152.00,195.00" stroke="#c8c8c8" stroke-width="1.1" fill="none"/>
<use href="#m11" fill="url(#mg)"/>
<path d="M174.30,57.20 L168.25,60.00 M185.70,57.20 L191.75,60.00" stroke="#dcdcdc" stroke-width="1.5" stroke-linecap="round" fill="none"/><path d="M180.00,58.00 L180.00,64.00" stroke="#c8c8c8" stroke-width="1.1" fill="none"/>
<use href="#m12" fill="url(#mg)"/>
<path d="M196.56,57.90 L190.78,60.70 M207.44,57.90 L213.22,60.70" stroke="#dcdcdc" stroke-width="1.5" stroke-linecap="round" fill="none"/><path d="M202.00,58.70 L202.00,64.70" stroke="#c8c8c8" stroke-width="1.1" fill="none"/>
<use href="#m13" fill="url(#mg)"/>
<path d="M227.11,58.70 L220.86,61.50 M238.89,58.70 L245.14,61.50" stroke="#dcdcdc" stroke-width="1.5" stroke-linecap="round" fill="none"/><path d="M233.00,59.50 L233.00,65.50" stroke="#c8c8c8" stroke-width="1.1" fill="none"/>
<use href="#m14" fill="url(#mg)"/>
<path d="M176.38,101.20 L170.94,104.00 M186.62,101.20 L192.06,104.00" stroke="#dcdcdc" stroke-width="1.5" stroke-linecap="round" fill="none"/><path d="M181.50,102.00 L181.50,108.00" stroke="#c8c8c8" stroke-width="1.1" fill="none"/>
<use href="#m15" fill="url(#mg)"/>
<path d="M197.51,101.70 L191.26,104.50 M209.29,101.70 L215.54,104.50" stroke="#dcdcdc" stroke-width="1.5" stroke-linecap="round" fill="none"/><path d="M203.40,102.50 L203.40,108.50" stroke="#c8c8c8" stroke-width="1.1" fill="none"/>
<use href="#m16" fill="url(#mg)"/>
<path d="M225.84,101.20 L219.82,104.00 M237.16,101.20 L243.18,104.00" stroke="#dcdcdc" stroke-width="1.5" stroke-linecap="round" fill="none"/><path d="M231.50,102.00 L231.50,108.00" stroke="#c8c8c8" stroke-width="1.1" fill="none"/>
<use href="#m17" fill="url(#mg)"/>
<path d="M177.69,145.20 L172.04,148.00 M188.31,145.20 L193.96,148.00" stroke="#dcdcdc" stroke-width="1.5" stroke-linecap="round" fill="none"/><path d="M183.00,146.00 L183.00,152.00" stroke="#c8c8c8" stroke-width="1.1" fill="none"/>
<use href="#m18" fill="url(#mg)"/>
<path d="M199.69,145.20 L194.04,148.00 M210.31,145.20 L215.96,148.00" stroke="#dcdcdc" stroke-width="1.5" stroke-linecap="round" fill="none"/><path d="M205.00,146.00 L205.00,152.00" stroke="#c8c8c8" stroke-width="1.1" fill="none"/>
<use href="#m19" fill="url(#mg)"/>
<path d="M227.58,144.20 L221.29,147.00 M239.42,144.20 L245.71,147.00" stroke="#dcdcdc" stroke-width="1.5" stroke-linecap="round" fill="none"/><path d="M233.50,145.00 L233.50,151.00" stroke="#c8c8c8" stroke-width="1.1" fill="none"/>
<use href="#m20" fill="url(#mg)"/>
<path d="M175.54,189.20 L170.27,192.00 M185.46,189.20 L190.73,192.00" stroke="#dcdcdc" stroke-width="1.5" stroke-linecap="round" fill="none"/><path d="M180.50,190.00 L180.50,196.00" stroke="#c8c8c8" stroke-width="1.1" fill="none"/>
<use href="#m21" fill="url(#mg)"/>
<path d="M200.81,189.20 L195.50,192.00 M210.79,189.20 L216.10,192.00" stroke="#dcdcdc" stroke-width="1.5" stroke-linecap="round" fill="none"/><path d="M205.80,190.00 L205.80,196.00" stroke="#c8c8c8" stroke-width="1.1" fill="none"/>
<use href="#m22" fill="url(#mg)"/>
<path d="M225.32,189.20 L219.71,192.00 M235.88,189.20 L241.49,192.00" stroke="#dcdcdc" stroke-width="1.5" stroke-linecap="round" fill="none"/><path d="M230.60,190.00 L230.60,196.00" stroke="#c8c8c8" stroke-width="1.1" fill="none"/>
<use href="#m23" fill="url(#mg)"/>
<path d="M257.46,57.20 L251.78,60.00 M268.14,57.20 L273.82,60.00" stroke="#dcdcdc" stroke-width="1.5" stroke-linecap="round" fill="none"/><path d="M262.80,58.00 L262.80,64.00" stroke="#c8c8c8" stroke-width="1.1" fill="none"/>
<use href="#m24" fill="url(#mg)"/>
<path d="M282.88,58.20 L276.59,61.00 M294.72,58.20 L301.01,61.00" stroke="#dcdcdc" stroke-width="1.5" stroke-linecap="round" fill="none"/><path d="M288.80,59.00 L288.80,65.00" stroke="#c8c8c8" stroke-width="1.1" fill="none"/>
<use href="#m25" fill="url(#mg)"/>
<path d="M307.08,58.20 L300.79,61.00 M318.92,58.20 L325.21,61.00" stroke="#dcdcdc" stroke-width="1.5" stroke-linecap="round" fill="none"/><path d="M313.00,59.00 L313.00,65.00" stroke="#c8c8c8" stroke-width="1.1" fill="none"/>
<use href="#m26" fill="url(#mg)"/>
<path d="M256.26,102.20 L251.23,105.00 M265.74,102.20 L270.77,105.00" stroke="#dcdcdc" stroke-width="1.5" stroke-linecap="round" fill="none"/><path d="M261.00,103.00 L261.00,109.00" stroke="#c8c8c8" stroke-width="1.1" fill="none"/>
<use href="#m27" fill="url(#mg)"/>
<path d="M277.08,102.20 L270.79,105.00 M288.92,102.20 L295.21,105.00" stroke="#dcdcdc" stroke-width="1.5" stroke-linecap="round" fill="none"/><path d="M283.00,103.00 L283.00,109.00" stroke="#c8c8c8" stroke-width="1.1" fill="none"/>
<use href="#m28" fill="url(#mg)"/>
<path d="M307.60,102.20 L300.80,105.00 M320.40,102.20 L327.20,105.00" stroke="#dcdcdc" stroke-width="1.5" stroke-linecap="round" fill="none"/><path d="M314.00,103.00 L314.00,109.00" stroke="#c8c8c8" stroke-width="1.1" fill="none"/>
<use href="#m29" fill="url(#mg)"/>
<path d="M254.90,145.20 L248.95,148.00 M266.10,145.20 L272.05,148.00" stroke="#dcdcdc" stroke-width="1.5" stroke-linecap="round" fill="none"/><path d="M260.50,146.00 L260.50,152.00" stroke="#c8c8c8" stroke-width="1.1" fill="none"/>
<use href="#m30" fill="url(#mg)"/>
<path d="M278.51,145.20 L272.26,148.00 M290.29,145.20 L296.54,148.00" stroke="#dcdcdc" stroke-width="1.5" stroke-linecap="round" fill="none"/><path d="M284.40,146.00 L284.40,152.00" stroke="#c8c8c8" stroke-width="1.1" fill="none"/>
<use href="#m31" fill="url(#mg)"/>
<path d="M307.58,145.20 L301.29,148.00 M319.42,145.20 L325.71,148.00" stroke="#dcdcdc" stroke-width="1.5" stroke-linecap="round" fill="none"/><path d="M313.50,146.00 L313.50,152.00" stroke="#c8c8c8" stroke-width="1.1" fill="none"/>
<use href="#m32" fill="url(#mg)"/>
<path d="M255.54,189.20 L250.27,192.00 M265.46,189.20 L270.73,192.00" stroke="#dcdcdc" stroke-width="1.5" stroke-linecap="round" fill="none"/><path d="M260.50,190.00 L260.50,196.00" stroke="#c8c8c8" stroke-width="1.1" fill="none"/>
<use href="#m33" fill="url(#mg)"/>
<path d="M280.19,189.20 L274.54,192.00 M290.81,189.20 L296.46,192.00" stroke="#dcdcdc" stroke-width="1.5" stroke-linecap="round" fill="none"/><path d="M285.50,190.00 L285.50,196.00" stroke="#c8c8c8" stroke-width="1.1" fill="none"/>
<use href="#m34" fill="url(#mg)"/>
<path d="M307.58,189.20 L301.29,192.00 M319.42,189.20 L325.71,192.00" stroke="#dcdcdc" stroke-width="1.5" stroke-linecap="round" fill="none"/><path d="M313.50,190.00 L313.50,196.00" stroke="#c8c8c8" stroke-width="1.1" fill="none"/>
<use href="#m35" fill="url(#mg)"/>
<path d="M340.16,57.20 L334.48,60.00 M350.84,57.20 L356.52,60.00" stroke="#dcdcdc" stroke-width="1.5" stroke-linecap="round" fill="none"/><path d="M345.50,58.00 L345.50,64.00" stroke="#c8c8c8" stroke-width="1.1" fill="none"/>
<use href="#m36" fill="url(#mg)"/>
<path d="M360.44,57.20 L355.07,60.00 M370.56,57.20 L375.93,60.00" stroke="#dcdcdc" stroke-width="1.5" stroke-linecap="round" fill="none"/><path d="M365.50,58.00 L365.50,64.00" stroke="#c8c8c8" stroke-width="1.1" fill="none"/>
<use href="#m37" fill="url(#mg)"/>
<path d="M388.34,59.20 L382.97,62.00 M398.46,59.20 L403.83,62.00" stroke="#dcdcdc" stroke-width="1.5" stroke-linecap="round" fill="none"/><path d="M393.40,60.00 L393.40,66.00" stroke="#c8c8c8" stroke-width="1.1" fill="none"/>
<use href="#m38" fill="url(#mg)"/>
<path d="M330.66,102.20 L324.98,105.00 M341.34,102.20 L347.02,105.00" stroke="#dcdcdc" stroke-width="1.5" stroke-linecap="round" fill="none"/><path d="M336.00,103.00 L336.00,109.00" stroke="#c8c8c8" stroke-width="1.1" fill="none"/>
<use href="#m39" fill="url(#mg)"/>
<path d="M360.84,102.20 L354.82,105.00 M372.16,102.20 L378.18,105.00" stroke="#dcdcdc" stroke-width="1.5" stroke-linecap="round" fill="none"/><path d="M366.50,103.00 L366.50,109.00" stroke="#c8c8c8" stroke-width="1.1" fill="none"/>
<use href="#m40" fill="url(#mg)"/>
<path d="M390.65,103.20 L384.32,106.00 M402.55,103.20 L408.88,106.00" stroke="#dcdcdc" stroke-width="1.5" stroke-linecap="round" fill="none"/><path d="M396.60,104.00 L396.60,110.00" stroke="#c8c8c8" stroke-width="1.1" fill="none"/>
<use href="#m41" fill="url(#mg)"/>
<path d="M339.72,145.20 L334.11,148.00 M350.28,145.20 L355.89,148.00" stroke="#dcdcdc" stroke-width="1.5" stroke-linecap="round" fill="none"/><path d="M345.00,146.00 L345.00,152.00" stroke="#c8c8c8" stroke-width="1.1" fill="none"/>
<use href="#m42" fill="url(#mg)"/>
<path d="M363.75,145.20 L358.18,148.00 M374.25,145.20 L379.82,148.00" stroke="#dcdcdc" stroke-width="1.5" stroke-linecap="round" fill="none"/><path d="M369.00,146.00 L369.00,152.00" stroke="#c8c8c8" stroke-width="1.1" fill="none"/>
<use href="#m43" fill="url(#mg)"/>
<path d="M391.72,146.20 L386.11,149.00 M402.28,146.20 L407.89,149.00" stroke="#dcdcdc" stroke-width="1.5" stroke-linecap="round" fill="none"/><path d="M397.00,147.00 L397.00,153.00" stroke="#c8c8c8" stroke-width="1.1" fill="none"/>
<use href="#m44" fill="url(#mg)"/>
<path d="M332.64,189.20 L327.37,192.00 M342.56,189.20 L347.83,192.00" stroke="#dcdcdc" stroke-width="1.5" stroke-linecap="round" fill="none"/><path d="M337.60,190.00 L337.60,196.00" stroke="#c8c8c8" stroke-width="1.1" fill="none"/>
<use href="#m45" fill="url(#mg)"/>
<path d="M360.02,190.20 L354.41,193.00 M370.58,190.20 L376.19,193.00" stroke="#dcdcdc" stroke-width="1.5" stroke-linecap="round" fill="none"/><path d="M365.30,191.00 L365.30,197.00" stroke="#c8c8c8" stroke-width="1.1" fill="none"/>
<use href="#m46" fill="url(#mg)"/>
<path d="M390.99,191.20 L385.34,194.00 M401.61,191.20 L407.26,194.00" stroke="#dcdcdc" stroke-width="1.5" stroke-linecap="round" fill="none"/><path d="M396.30,192.00 L396.30,198.00" stroke="#c8c8c8" stroke-width="1.1" fill="none"/>
<use href="#m47" fill="url(#mg)"/>
</g>
<clipPath id="allmice"><use href="#m0"/><rect x="98.30" y="57.00" width="2.4" height="6"/><use href="#m1"/><rect x="123.30" y="57.00" width="2.4" height="6"/><use href="#m2"/><rect x="151.40" y="57.00" width="2.4" height="6"/><use href="#m3"/><rect x="101.80" y="100.00" width="2.4" height="6"/><use href="#m4"/><rect x="125.30" y="100.00" width="2.4" height="6"/><use href="#m5"/><rect x="150.30" y="100.00" width="2.4" height="6"/><use href="#m6"/><rect x="100.60" y="145.00" width="2.4" height="6"/><use href="#m7"/><rect x="125.30" y="145.00" width="2.4" height="6"/><use href="#m8"/><rect x="151.30" y="145.00" width="2.4" height="6"/><use href="#m9"/><rect x="99.80" y="189.00" width="2.4" height="6"/><use href="#m10"/><rect x="124.80" y="189.00" width="2.4" height="6"/><use href="#m11"/><rect x="150.80" y="189.00" width="2.4" height="6"/><use href="#m12"/><rect x="178.80" y="58.00" width="2.4" height="6"/><use href="#m13"/><rect x="200.80" y="58.70" width="2.4" height="6"/><use href="#m14"/><rect x="231.80" y="59.50" width="2.4" height="6"/><use href="#m15"/><rect x="180.30" y="102.00" width="2.4" height="6"/><use href="#m16"/><rect x="202.20" y="102.50" width="2.4" height="6"/><use href="#m17"/><rect x="230.30" y="102.00" width="2.4" height="6"/><use href="#m18"/><rect x="181.80" y="146.00" width="2.4" height="6"/><use href="#m19"/><rect x="203.80" y="146.00" width="2.4" height="6"/><use href="#m20"/><rect x="232.30" y="145.00" width="2.4" height="6"/><use href="#m21"/><rect x="179.30" y="190.00" width="2.4" height="6"/><use href="#m22"/><rect x="204.60" y="190.00" width="2.4" height="6"/><use href="#m23"/><rect x="229.40" y="190.00" width="2.4" height="6"/><use href="#m24"/><rect x="261.60" y="58.00" width="2.4" height="6"/><use href="#m25"/><rect x="287.60" y="59.00" width="2.4" height="6"/><use href="#m26"/><rect x="311.80" y="59.00" width="2.4" height="6"/><use href="#m27"/><rect x="259.80" y="103.00" width="2.4" height="6"/><use href="#m28"/><rect x="281.80" y="103.00" width="2.4" height="6"/><use href="#m29"/><rect x="312.80" y="103.00" width="2.4" height="6"/><use href="#m30"/><rect x="259.30" y="146.00" width="2.4" height="6"/><use href="#m31"/><rect x="283.20" y="146.00" width="2.4" height="6"/><use href="#m32"/><rect x="312.30" y="146.00" width="2.4" height="6"/><use href="#m33"/><rect x="259.30" y="190.00" width="2.4" height="6"/><use href="#m34"/><rect x="284.30" y="190.00" width="2.4" height="6"/><use href="#m35"/><rect x="312.30" y="190.00" width="2.4" height="6"/><use href="#m36"/><rect x="344.30" y="58.00" width="2.4" height="6"/><use href="#m37"/><rect x="364.30" y="58.00" width="2.4" height="6"/><use href="#m38"/><rect x="392.20" y="60.00" width="2.4" height="6"/><use href="#m39"/><rect x="334.80" y="103.00" width="2.4" height="6"/><use href="#m40"/><rect x="365.30" y="103.00" width="2.4" height="6"/><use href="#m41"/><rect x="395.40" y="104.00" width="2.4" height="6"/><use href="#m42"/><rect x="343.80" y="146.00" width="2.4" height="6"/><use href="#m43"/><rect x="367.80" y="146.00" width="2.4" height="6"/><use href="#m44"/><rect x="395.80" y="147.00" width="2.4" height="6"/><use href="#m45"/><rect x="336.40" y="190.00" width="2.4" height="6"/><use href="#m46"/><rect x="364.10" y="191.00" width="2.4" height="6"/><use href="#m47"/><rect x="395.10" y="192.00" width="2.4" height="6"/></clipPath>
<g clip-path="url(#allmice)">
<ellipse cx="99.20" cy="46.50" rx="4.20" ry="1.50" fill="#7070c8" opacity="0.574" filter="url(#b1)"/>
<ellipse cx="101.10" cy="27.60" rx="2.30" ry="2.10" fill="#7070c8" opacity="0.49199999999999994" filter="url(#b1)"/>
<ellipse cx="122.60" cy="49.70" rx="4.60" ry="2.30" fill="#7070c8" opacity="0.615" filter="url(#b1)"/>
<ellipse cx="154.15" cy="45.85" rx="4.65" ry="1.55" fill="#7070c8" opacity="0.574" filter="url(#b1)"/>
<ellipse cx="107.20" cy="90.25" rx="4.60" ry="4.25" fill="#3b3bd8" opacity="0.7789999999999999" filter="url(#b1)"/>
<ellipse cx="100.75" cy="91.50" rx="5.25" ry="3.50" fill="#5050d0" opacity="0.656" filter="url(#b1)"/>
<ellipse cx="108.75" cy="89.80" rx="1.75" ry="1.50" fill="#30b8e8" opacity="0.9" filter="url(#b1)"/>
<ellipse cx="132.60" cy="90.25" rx="3.10" ry="2.75" fill="#4040d0" opacity="0.738" filter="url(#b1)"/>
<ellipse cx="126.00" cy="91.25" rx="5.00" ry="2.75" fill="#6a6ad0" opacity="0.49199999999999994" filter="url(#b1)"/>
<ellipse cx="156.05" cy="90.25" rx="4.25" ry="3.45" fill="#3b3bd8" opacity="0.7789999999999999" filter="url(#b1)"/>
<ellipse cx="149.50" cy="92.00" rx="4.50" ry="3.00" fill="#6060d0" opacity="0.49199999999999994" filter="url(#b1)"/>
<ellipse cx="156.50" cy="89.80" rx="1.70" ry="1.50" fill="#30b8e8" opacity="0.9" filter="url(#b1)"/>
<ellipse cx="102.25" cy="73.50" rx="3.25" ry="2.00" fill="#5a5ad0" opacity="0.49199999999999994" filter="url(#b1)"/>
<ellipse cx="124.00" cy="73.50" rx="3.00" ry="2.00" fill="#5a5ad0" opacity="0.451" filter="url(#b1)"/>
<ellipse cx="148.00" cy="73.50" rx="3.00" ry="2.00" fill="#5a5ad0" opacity="0.451" filter="url(#b1)"/>
<ellipse cx="103.35" cy="135.00" rx="7.65" ry="3.50" fill="#3b3bd8" opacity="0.7544" filter="url(#b1)"/>
<ellipse cx="106.50" cy="134.60" rx="2.00" ry="1.60" fill="#30b8e8" opacity="0.9" filter="url(#b1)"/>
<ellipse cx="98.75" cy="120.40" rx="3.05" ry="1.90" fill="#4a4ad0" opacity="0.697" filter="url(#b1)"/>
<ellipse cx="129.55" cy="135.75" rx="6.15" ry="3.45" fill="#4545d0" opacity="0.697" filter="url(#b1)"/>
<ellipse cx="126.05" cy="121.00" rx="3.45" ry="2.00" fill="#5050d0" opacity="0.574" filter="url(#b1)"/>
<ellipse cx="154.90" cy="136.15" rx="3.90" ry="4.65" fill="#7070c8" opacity="0.656" filter="url(#b1)"/>
<ellipse cx="103.75" cy="179.90" rx="4.25" ry="2.30" fill="#3838d8" opacity="0.7789999999999999" filter="url(#b1)"/>
<ellipse cx="99.55" cy="164.15" rx="3.05" ry="1.15" fill="#4a4ad0" opacity="0.656" filter="url(#b1)"/>
<ellipse cx="130.50" cy="179.90" rx="3.50" ry="3.90" fill="#3d3dd5" opacity="0.738" filter="url(#b1)"/>
<ellipse cx="121.50" cy="164.50" rx="3.50" ry="1.50" fill="#5050d0" opacity="0.49199999999999994" filter="url(#b1)"/>
<ellipse cx="155.25" cy="181.10" rx="4.25" ry="2.70" fill="#7070c8" opacity="0.697" filter="url(#b1)"/>
<ellipse cx="181.10" cy="49.50" rx="5.40" ry="1.50" fill="#7070c8" opacity="0.49199999999999994" filter="url(#b1)"/>
<ellipse cx="185.30" cy="92.90" rx="3.50" ry="3.90" fill="#3838d8" opacity="0.7789999999999999" filter="url(#b1)"/>
<ellipse cx="179.00" cy="92.50" rx="3.00" ry="2.50" fill="#7070c8" opacity="0.41" filter="url(#b1)"/>
<ellipse cx="205.30" cy="93.70" rx="6.50" ry="2.30" fill="#5a5ad0" opacity="0.615" filter="url(#b1)"/>
<path d="M225,91 L240,85.5 L240.3,91.5 L226,96 Z" fill="#5050d0" opacity="0.85" filter="url(#b1)"/>
<ellipse cx="183.00" cy="137.50" rx="7.30" ry="3.50" fill="#4545d5" opacity="0.7215999999999999" filter="url(#b1)"/>
<ellipse cx="207.30" cy="134.50" rx="6.30" ry="2.50" fill="#4a4ad2" opacity="0.697" filter="url(#b1)"/>
<ellipse cx="234.00" cy="132.65" rx="6.00" ry="3.35" fill="#4a4ad2" opacity="0.697" filter="url(#b1)"/>
<ellipse cx="180.60" cy="181.75" rx="6.80" ry="3.85" fill="#4040d5" opacity="0.7215999999999999" filter="url(#b1)"/>
<ellipse cx="206.80" cy="177.85" rx="6.80" ry="1.95" fill="#4a4ad2" opacity="0.697" filter="url(#b1)"/>
<ellipse cx="234.50" cy="178.00" rx="3.50" ry="2.00" fill="#5050d0" opacity="0.656" filter="url(#b1)"/>
<ellipse cx="262.65" cy="34.05" rx="5.35" ry="2.75" fill="#5050d0" opacity="0.7" filter="url(#b1)"/>
<ellipse cx="268.35" cy="45.20" rx="3.65" ry="2.80" fill="#4545d0" opacity="0.8" filter="url(#b1)"/>
<ellipse cx="263.80" cy="52.50" rx="6.50" ry="4.00" fill="#5555d0" opacity="0.75" filter="url(#b1)"/>
<ellipse cx="285.00" cy="32.00" rx="4.00" ry="2.00" fill="#5a5ad0" opacity="0.6" filter="url(#b1)"/>
<ellipse cx="290.25" cy="50.30" rx="6.95" ry="2.30" fill="#4a4ad0" opacity="0.8" filter="url(#b1)"/>
<ellipse cx="308.50" cy="32.50" rx="3.50" ry="2.50" fill="#5a5ad0" opacity="0.6" filter="url(#b1)"/>
<ellipse cx="313.90" cy="47.90" rx="6.50" ry="1.90" fill="#4a4ad0" opacity="0.8" filter="url(#b1)"/>
<ellipse cx="259.75" cy="86.75" rx="7.75" ry="14.75" fill="#3a48d0" opacity="0.95" filter="url(#patch)"/>
<ellipse cx="261.25" cy="95.50" rx="4.75" ry="5.50" fill="#3545d0" opacity="0.9" filter="url(#b1)"/>
<ellipse cx="257.6" cy="71.5" rx="2.30" ry="2.00" fill="#22b8e0" opacity="1.0" filter="url(#b1)"/>
<ellipse cx="264.9" cy="91" rx="3.20" ry="3.00" fill="#22b8e0" opacity="1.0" filter="url(#b1)"/>
<ellipse cx="264.9" cy="91" rx="2.50" ry="2.34" fill="#3cc24a" opacity="1.0" filter="url(#b1)"/>
<ellipse cx="264.9" cy="91" rx="1.86" ry="1.74" fill="#f0e024" opacity="1.0" filter="url(#b1)"/>
<ellipse cx="264.9" cy="91" rx="1.47" ry="1.38" fill="#f08a20" opacity="1.0" filter="url(#b1)"/>
<ellipse cx="264.9" cy="91" rx="1.22" ry="1.14" fill="#ee2a1c" opacity="1.0" filter="url(#b1)"/>
<ellipse cx="260" cy="97" rx="4.50" ry="4.00" fill="#22b8e0" opacity="0.9" filter="url(#b1)"/>
<ellipse cx="260" cy="97" rx="3.51" ry="3.12" fill="#3cc24a" opacity="0.9" filter="url(#b1)"/>
<ellipse cx="283.75" cy="85.25" rx="8.25" ry="15.25" fill="#4a58d8" opacity="0.7" filter="url(#patch2)"/>
<ellipse cx="284.50" cy="91.50" rx="7.50" ry="6.50" fill="#3545d0" opacity="0.92" filter="url(#b1)"/>
<ellipse cx="281.5" cy="69.5" rx="2.60" ry="2.30" fill="#22b8e0" opacity="1.0" filter="url(#b1)"/>
<ellipse cx="281.5" cy="69.5" rx="2.03" ry="1.79" fill="#3cc24a" opacity="1.0" filter="url(#b1)"/>
<ellipse cx="285.7" cy="90" rx="4.20" ry="3.60" fill="#22b8e0" opacity="1.0" filter="url(#b1)"/>
<ellipse cx="285.7" cy="90" rx="3.28" ry="2.81" fill="#3cc24a" opacity="1.0" filter="url(#b1)"/>
<ellipse cx="285.7" cy="90" rx="2.44" ry="2.09" fill="#f0e024" opacity="1.0" filter="url(#b1)"/>
<ellipse cx="315.00" cy="86.00" rx="9.00" ry="16.00" fill="#4a58d8" opacity="0.7" filter="url(#patch)"/>
<ellipse cx="315.15" cy="93.50" rx="8.65" ry="7.50" fill="#3545d0" opacity="0.92" filter="url(#b1)"/>
<ellipse cx="311" cy="71.3" rx="2.50" ry="2.30" fill="#22b8e0" opacity="1.0" filter="url(#b1)"/>
<ellipse cx="311" cy="71.3" rx="1.95" ry="1.79" fill="#3cc24a" opacity="1.0" filter="url(#b1)"/>
<ellipse cx="315" cy="92" rx="7.50" ry="4.60" fill="#22b8e0" opacity="1.0" filter="url(#b1)"/>
<ellipse cx="315" cy="92" rx="5.85" ry="3.59" fill="#3cc24a" opacity="1.0" filter="url(#b1)"/>
<ellipse cx="315" cy="92" rx="4.35" ry="2.67" fill="#f0e024" opacity="1.0" filter="url(#b1)"/>
<ellipse cx="314.1" cy="92.8" rx="2.00" ry="1.60" fill="#22b8e0" opacity="1.0" filter="url(#b1)"/>
<ellipse cx="314.1" cy="92.8" rx="1.56" ry="1.25" fill="#3cc24a" opacity="1.0" filter="url(#b1)"/>
<ellipse cx="314.1" cy="92.8" rx="1.16" ry="0.93" fill="#f0e024" opacity="1.0" filter="url(#b1)"/>
<ellipse cx="314.1" cy="92.8" rx="0.92" ry="0.74" fill="#f08a20" opacity="1.0" filter="url(#b1)"/>
<ellipse cx="314.1" cy="92.8" rx="0.76" ry="0.61" fill="#ee2a1c" opacity="1.0" filter="url(#b1)"/>
<ellipse cx="319.2" cy="93.6" rx="1.80" ry="1.50" fill="#22b8e0" opacity="1.0" filter="url(#b1)"/>
<ellipse cx="319.2" cy="93.6" rx="1.40" ry="1.17" fill="#3cc24a" opacity="1.0" filter="url(#b1)"/>
<ellipse cx="319.2" cy="93.6" rx="1.04" ry="0.87" fill="#f0e024" opacity="1.0" filter="url(#b1)"/>
<ellipse cx="319.2" cy="93.6" rx="0.83" ry="0.69" fill="#f08a20" opacity="1.0" filter="url(#b1)"/>
<ellipse cx="319.2" cy="93.6" rx="0.68" ry="0.57" fill="#ee2a1c" opacity="1.0" filter="url(#b1)"/>
<ellipse cx="343.50" cy="29.00" rx="2.50" ry="2.00" fill="#5050d0" opacity="0.7" filter="url(#b1)"/>
<ellipse cx="348.30" cy="44.30" rx="3.70" ry="1.90" fill="#3c3cd0" opacity="0.9" filter="url(#b1)"/>
<ellipse cx="363.00" cy="30.00" rx="3.00" ry="2.00" fill="#5050d0" opacity="0.7" filter="url(#b1)"/>
<ellipse cx="365.50" cy="46.00" rx="7.50" ry="10.00" fill="#5a5ad0" opacity="0.8" filter="url(#patch2)"/>
<ellipse cx="394.00" cy="47.00" rx="7.50" ry="14.00" fill="#5050d4" opacity="0.85" filter="url(#patch)"/>
<ellipse cx="394.00" cy="50.50" rx="5.00" ry="3.50" fill="#4040d0" opacity="0.5" filter="url(#b1)"/>
<ellipse cx="398.00" cy="38.00" rx="2.00" ry="2.00" fill="#30c0e0" opacity="0.6" filter="url(#b1)"/>
<ellipse cx="336.50" cy="84.50" rx="9.00" ry="16.50" fill="#3545d0" opacity="1.0" filter="url(#patch2)"/>
<ellipse cx="336.50" cy="89.50" rx="8.50" ry="11.50" fill="#3545d0" opacity="0.85" filter="url(#b1)"/>
<ellipse cx="334.3" cy="73" rx="5.50" ry="4.80" fill="#22b8e0" opacity="1.0" filter="url(#b1)"/>
<ellipse cx="334.3" cy="73" rx="4.29" ry="3.74" fill="#3cc24a" opacity="1.0" filter="url(#b1)"/>
<ellipse cx="334.3" cy="73" rx="3.19" ry="2.78" fill="#f0e024" opacity="1.0" filter="url(#b1)"/>
<ellipse cx="334.3" cy="73" rx="2.53" ry="2.21" fill="#f08a20" opacity="1.0" filter="url(#b1)"/>
<ellipse cx="334.3" cy="73" rx="2.09" ry="1.82" fill="#ee2a1c" opacity="1.0" filter="url(#b1)"/>
<ellipse cx="341.4" cy="88.8" rx="3.60" ry="3.00" fill="#22b8e0" opacity="1.0" filter="url(#b1)"/>
<ellipse cx="341.4" cy="88.8" rx="2.81" ry="2.34" fill="#3cc24a" opacity="1.0" filter="url(#b1)"/>
<ellipse cx="341.4" cy="88.8" rx="2.09" ry="1.74" fill="#f0e024" opacity="1.0" filter="url(#b1)"/>
<ellipse cx="341.4" cy="88.8" rx="1.66" ry="1.38" fill="#f08a20" opacity="1.0" filter="url(#b1)"/>
<ellipse cx="341.4" cy="88.8" rx="1.37" ry="1.14" fill="#ee2a1c" opacity="1.0" filter="url(#b1)"/>
<ellipse cx="335.5" cy="94.5" rx="7.50" ry="4.20" fill="#22b8e0" opacity="1.0" filter="url(#b1)"/>
<ellipse cx="335.5" cy="94.5" rx="5.85" ry="3.28" fill="#3cc24a" opacity="1.0" filter="url(#b1)"/>
<ellipse cx="367.00" cy="86.75" rx="9.50" ry="15.75" fill="#3545d0" opacity="1.0" filter="url(#patch)"/>
<ellipse cx="367.25" cy="92.00" rx="8.75" ry="10.00" fill="#3545d0" opacity="0.8" filter="url(#b1)"/>
<ellipse cx="362.6" cy="78.2" rx="3.30" ry="2.40" fill="#22b8e0" opacity="1.0" filter="url(#b1)"/>
<ellipse cx="362.6" cy="78.2" rx="2.57" ry="1.87" fill="#3cc24a" opacity="1.0" filter="url(#b1)"/>
<ellipse cx="362.6" cy="78.2" rx="1.91" ry="1.39" fill="#f0e024" opacity="1.0" filter="url(#b1)"/>
<ellipse cx="363.5" cy="85.3" rx="2.80" ry="2.40" fill="#22b8e0" opacity="1.0" filter="url(#b1)"/>
<ellipse cx="363.5" cy="85.3" rx="2.18" ry="1.87" fill="#3cc24a" opacity="1.0" filter="url(#b1)"/>
<ellipse cx="363.5" cy="85.3" rx="1.62" ry="1.39" fill="#f0e024" opacity="1.0" filter="url(#b1)"/>
<ellipse cx="363.5" cy="85.3" rx="1.29" ry="1.10" fill="#f08a20" opacity="1.0" filter="url(#b1)"/>
<ellipse cx="363.5" cy="85.3" rx="1.06" ry="0.91" fill="#ee2a1c" opacity="1.0" filter="url(#b1)"/>
<ellipse cx="372.5" cy="91.2" rx="3.40" ry="3.00" fill="#22b8e0" opacity="1.0" filter="url(#b1)"/>
<ellipse cx="372.5" cy="91.2" rx="2.65" ry="2.34" fill="#3cc24a" opacity="1.0" filter="url(#b1)"/>
<ellipse cx="372.5" cy="91.2" rx="1.97" ry="1.74" fill="#f0e024" opacity="1.0" filter="url(#b1)"/>
<ellipse cx="372.5" cy="91.2" rx="1.56" ry="1.38" fill="#f08a20" opacity="1.0" filter="url(#b1)"/>
<ellipse cx="372.5" cy="91.2" rx="1.29" ry="1.14" fill="#ee2a1c" opacity="1.0" filter="url(#b1)"/>
<ellipse cx="368" cy="96" rx="3.50" ry="3.00" fill="#22b8e0" opacity="0.8" filter="url(#b1)"/>
<ellipse cx="396.75" cy="89.00" rx="9.25" ry="16.00" fill="#3545d0" opacity="1.0" filter="url(#patch2)"/>
<ellipse cx="397.00" cy="96.00" rx="9.00" ry="8.00" fill="#3545d0" opacity="0.85" filter="url(#b1)"/>
<ellipse cx="393.4" cy="79" rx="3.00" ry="2.60" fill="#22b8e0" opacity="1.0" filter="url(#b1)"/>
<ellipse cx="393.4" cy="79" rx="2.34" ry="2.03" fill="#3cc24a" opacity="1.0" filter="url(#b1)"/>
<ellipse cx="393.4" cy="79" rx="1.74" ry="1.51" fill="#f0e024" opacity="1.0" filter="url(#b1)"/>
<ellipse cx="393.4" cy="79" rx="1.38" ry="1.20" fill="#f08a20" opacity="1.0" filter="url(#b1)"/>
<ellipse cx="393.4" cy="79" rx="1.14" ry="0.99" fill="#ee2a1c" opacity="1.0" filter="url(#b1)"/>
<ellipse cx="399.5" cy="93.5" rx="7.50" ry="4.80" fill="#22b8e0" opacity="1.0" filter="url(#b1)"/>
<ellipse cx="399.5" cy="93.5" rx="5.85" ry="3.74" fill="#3cc24a" opacity="1.0" filter="url(#b1)"/>
<ellipse cx="399.5" cy="93.5" rx="4.35" ry="2.78" fill="#f0e024" opacity="1.0" filter="url(#b1)"/>
<ellipse cx="399.5" cy="93.5" rx="3.45" ry="2.21" fill="#f08a20" opacity="1.0" filter="url(#b1)"/>
<ellipse cx="399.5" cy="93.5" rx="2.85" ry="1.82" fill="#ee2a1c" opacity="1.0" filter="url(#b1)"/>
<ellipse cx="392" cy="99" rx="3.00" ry="3.00" fill="#22b8e0" opacity="1.0" filter="url(#b1)"/>
<ellipse cx="345.25" cy="129.50" rx="7.75" ry="16.50" fill="#3545d0" opacity="0.95" filter="url(#patch)"/>
<ellipse cx="345.65" cy="138.50" rx="7.15" ry="7.50" fill="#3545d0" opacity="0.9" filter="url(#b1)"/>
<ellipse cx="344.1" cy="120.6" rx="3.60" ry="3.00" fill="#22b8e0" opacity="1.0" filter="url(#b1)"/>
<ellipse cx="344.1" cy="120.6" rx="2.81" ry="2.34" fill="#3cc24a" opacity="1.0" filter="url(#b1)"/>
<ellipse cx="344.1" cy="120.6" rx="2.09" ry="1.74" fill="#f0e024" opacity="1.0" filter="url(#b1)"/>
<ellipse cx="344.1" cy="120.6" rx="1.66" ry="1.38" fill="#f08a20" opacity="1.0" filter="url(#b1)"/>
<ellipse cx="344.1" cy="120.6" rx="1.37" ry="1.14" fill="#ee2a1c" opacity="1.0" filter="url(#b1)"/>
<ellipse cx="348.8" cy="136.8" rx="2.80" ry="3.00" fill="#22b8e0" opacity="1.0" filter="url(#b1)"/>
<ellipse cx="348.8" cy="136.8" rx="2.18" ry="2.34" fill="#3cc24a" opacity="1.0" filter="url(#b1)"/>
<ellipse cx="341.5" cy="140" rx="2.40" ry="3.40" fill="#22b8e0" opacity="1.0" filter="url(#b1)"/>
<ellipse cx="371.00" cy="138.00" rx="5.00" ry="7.00" fill="#4a4ad0" opacity="0.9" filter="url(#patch2)"/>
<ellipse cx="371.50" cy="138.50" rx="2.50" ry="2.50" fill="#30b0e0" opacity="0.5" filter="url(#b1)"/>
<ellipse cx="396.75" cy="132.00" rx="8.25" ry="17.00" fill="#3545d0" opacity="0.95" filter="url(#patch2)"/>
<ellipse cx="397.00" cy="141.50" rx="8.00" ry="7.50" fill="#3545d0" opacity="0.9" filter="url(#b1)"/>
<ellipse cx="393" cy="119" rx="3.00" ry="3.00" fill="#22b8e0" opacity="0.8" filter="url(#b1)"/>
<ellipse cx="402" cy="137.2" rx="2.60" ry="2.40" fill="#22b8e0" opacity="1.0" filter="url(#b1)"/>
<ellipse cx="402" cy="137.2" rx="2.03" ry="1.87" fill="#3cc24a" opacity="1.0" filter="url(#b1)"/>
<ellipse cx="402" cy="137.2" rx="1.51" ry="1.39" fill="#f0e024" opacity="1.0" filter="url(#b1)"/>
<ellipse cx="402" cy="137.2" rx="1.20" ry="1.10" fill="#f08a20" opacity="1.0" filter="url(#b1)"/>
<ellipse cx="402" cy="137.2" rx="0.99" ry="0.91" fill="#ee2a1c" opacity="1.0" filter="url(#b1)"/>
<ellipse cx="396.2" cy="142.5" rx="5.00" ry="4.00" fill="#22b8e0" opacity="1.0" filter="url(#b1)"/>
<ellipse cx="396.2" cy="142.5" rx="3.90" ry="3.12" fill="#3cc24a" opacity="1.0" filter="url(#b1)"/>
<ellipse cx="396.2" cy="142.5" rx="2.90" ry="2.32" fill="#f0e024" opacity="1.0" filter="url(#b1)"/>
<ellipse cx="396.2" cy="142.5" rx="2.30" ry="1.84" fill="#f08a20" opacity="1.0" filter="url(#b1)"/>
<ellipse cx="396.2" cy="142.5" rx="1.90" ry="1.52" fill="#ee2a1c" opacity="1.0" filter="url(#b1)"/>
<ellipse cx="397" cy="149" rx="2.00" ry="2.00" fill="#22b8e0" opacity="1.0" filter="url(#b1)"/>
<ellipse cx="397" cy="149" rx="1.56" ry="1.56" fill="#3cc24a" opacity="1.0" filter="url(#b1)"/>
<ellipse cx="338.00" cy="174.00" rx="8.00" ry="17.00" fill="#3545d0" opacity="0.95" filter="url(#patch)"/>
<ellipse cx="338.00" cy="180.50" rx="8.00" ry="10.50" fill="#3545d0" opacity="0.85" filter="url(#b1)"/>
<ellipse cx="337" cy="159" rx="2.00" ry="2.00" fill="#22b8e0" opacity="1.0" filter="url(#b1)"/>
<ellipse cx="343" cy="176.8" rx="2.80" ry="2.60" fill="#22b8e0" opacity="1.0" filter="url(#b1)"/>
<ellipse cx="343" cy="176.8" rx="2.18" ry="2.03" fill="#3cc24a" opacity="1.0" filter="url(#b1)"/>
<ellipse cx="343" cy="176.8" rx="1.62" ry="1.51" fill="#f0e024" opacity="1.0" filter="url(#b1)"/>
<ellipse cx="343" cy="176.8" rx="1.29" ry="1.20" fill="#f08a20" opacity="1.0" filter="url(#b1)"/>
<ellipse cx="343" cy="176.8" rx="1.06" ry="0.99" fill="#ee2a1c" opacity="1.0" filter="url(#b1)"/>
<ellipse cx="332.4" cy="184.3" rx="4.00" ry="3.80" fill="#22b8e0" opacity="1.0" filter="url(#b1)"/>
<ellipse cx="332.4" cy="184.3" rx="3.12" ry="2.96" fill="#3cc24a" opacity="1.0" filter="url(#b1)"/>
<ellipse cx="332.4" cy="184.3" rx="2.32" ry="2.20" fill="#f0e024" opacity="1.0" filter="url(#b1)"/>
<ellipse cx="338" cy="186" rx="2.00" ry="3.00" fill="#22b8e0" opacity="1.0" filter="url(#b1)"/>
<ellipse cx="397.00" cy="184.00" rx="8.00" ry="9.00" fill="#4848d0" opacity="0.95" filter="url(#patch2)"/>
<ellipse cx="397.00" cy="171.50" rx="6.00" ry="5.50" fill="#7070d0" opacity="0.5" filter="url(#patch)"/>
</g>
<rect x="405.8" y="22.4" width="6.6" height="85.6" fill="url(#cbar)"/>
<line x1="412.4" y1="28.10" x2="416.0" y2="28.10" stroke="#555" stroke-width="0.7"/>
<line x1="412.4" y1="30.70" x2="414.59999999999997" y2="30.70" stroke="#555" stroke-width="0.7"/>
<line x1="412.4" y1="33.29" x2="414.59999999999997" y2="33.29" stroke="#555" stroke-width="0.7"/>
<line x1="412.4" y1="35.89" x2="414.59999999999997" y2="35.89" stroke="#555" stroke-width="0.7"/>
<line x1="412.4" y1="38.48" x2="414.59999999999997" y2="38.48" stroke="#555" stroke-width="0.7"/>
<line x1="412.4" y1="41.08" x2="416.0" y2="41.08" stroke="#555" stroke-width="0.7"/>
<line x1="412.4" y1="43.68" x2="414.59999999999997" y2="43.68" stroke="#555" stroke-width="0.7"/>
<line x1="412.4" y1="46.27" x2="414.59999999999997" y2="46.27" stroke="#555" stroke-width="0.7"/>
<line x1="412.4" y1="48.87" x2="414.59999999999997" y2="48.87" stroke="#555" stroke-width="0.7"/>
<line x1="412.4" y1="51.46" x2="414.59999999999997" y2="51.46" stroke="#555" stroke-width="0.7"/>
<line x1="412.4" y1="54.06" x2="416.0" y2="54.06" stroke="#555" stroke-width="0.7"/>
<line x1="412.4" y1="56.66" x2="414.59999999999997" y2="56.66" stroke="#555" stroke-width="0.7"/>
<line x1="412.4" y1="59.25" x2="414.59999999999997" y2="59.25" stroke="#555" stroke-width="0.7"/>
<line x1="412.4" y1="61.85" x2="414.59999999999997" y2="61.85" stroke="#555" stroke-width="0.7"/>
<line x1="412.4" y1="64.44" x2="414.59999999999997" y2="64.44" stroke="#555" stroke-width="0.7"/>
<line x1="412.4" y1="67.04" x2="416.0" y2="67.04" stroke="#555" stroke-width="0.7"/>
<line x1="412.4" y1="69.64" x2="414.59999999999997" y2="69.64" stroke="#555" stroke-width="0.7"/>
<line x1="412.4" y1="72.23" x2="414.59999999999997" y2="72.23" stroke="#555" stroke-width="0.7"/>
<line x1="412.4" y1="74.83" x2="414.59999999999997" y2="74.83" stroke="#555" stroke-width="0.7"/>
<line x1="412.4" y1="77.42" x2="414.59999999999997" y2="77.42" stroke="#555" stroke-width="0.7"/>
<line x1="412.4" y1="80.02" x2="416.0" y2="80.02" stroke="#555" stroke-width="0.7"/>
<line x1="412.4" y1="82.62" x2="414.59999999999997" y2="82.62" stroke="#555" stroke-width="0.7"/>
<line x1="412.4" y1="85.21" x2="414.59999999999997" y2="85.21" stroke="#555" stroke-width="0.7"/>
<line x1="412.4" y1="87.81" x2="414.59999999999997" y2="87.81" stroke="#555" stroke-width="0.7"/>
<line x1="412.4" y1="90.40" x2="414.59999999999997" y2="90.40" stroke="#555" stroke-width="0.7"/>
<line x1="412.4" y1="93.00" x2="416.0" y2="93.00" stroke="#555" stroke-width="0.7"/>
<line x1="412.4" y1="95.60" x2="414.59999999999997" y2="95.60" stroke="#555" stroke-width="0.7"/>
<line x1="412.4" y1="98.19" x2="414.59999999999997" y2="98.19" stroke="#555" stroke-width="0.7"/>
<line x1="412.4" y1="100.79" x2="414.59999999999997" y2="100.79" stroke="#555" stroke-width="0.7"/>
<line x1="412.4" y1="103.38" x2="414.59999999999997" y2="103.38" stroke="#555" stroke-width="0.7"/>
<line x1="412.4" y1="105.98" x2="416.0" y2="105.98" stroke="#555" stroke-width="0.7"/>
<line x1="412.4" y1="25.5" x2="414.6" y2="25.5" stroke="#555" stroke-width="0.7"/>
<text x="418.4" y="30.00" font-size="5.6" fill="#222" font-family="Liberation Serif" lengthAdjust="spacingAndGlyphs" textLength="11.6">14000</text>
<text x="418.4" y="42.98" font-size="5.6" fill="#222" font-family="Liberation Serif" lengthAdjust="spacingAndGlyphs" textLength="11.6">12000</text>
<text x="418.4" y="55.96" font-size="5.6" fill="#222" font-family="Liberation Serif" lengthAdjust="spacingAndGlyphs" textLength="11.6">10000</text>
<text x="418.4" y="68.94" font-size="5.6" fill="#222" font-family="Liberation Serif" lengthAdjust="spacingAndGlyphs" textLength="9.3">8000</text>
<text x="418.4" y="81.92" font-size="5.6" fill="#222" font-family="Liberation Serif" lengthAdjust="spacingAndGlyphs" textLength="9.3">6000</text>
<text x="418.4" y="94.90" font-size="5.6" fill="#222" font-family="Liberation Serif" lengthAdjust="spacingAndGlyphs" textLength="9.3">4000</text>
<text x="418.4" y="107.88" font-size="5.6" fill="#222" font-family="Liberation Serif" lengthAdjust="spacingAndGlyphs" textLength="9.3">2000</text>
<text transform="translate(409.2,154.5) rotate(90)" font-size="7.5" font-weight="bold" text-anchor="middle">Photons/sec/cm<tspan font-size="4.5" dy="-2.6">2</tspan><tspan dy="2.6">/sr</tspan></text>
<text x="6" y="218.7" font-size="12" font-weight="bold">B</text>
<path d="M39.3,237.7 L39.3,313.2 L89.6,313.2" stroke="#444" stroke-width="0.8" fill="none"/>
<line x1="37.699999999999996" y1="238.2" x2="39.3" y2="238.2" stroke="#444" stroke-width="0.8"/>
<text x="12.20" y="240.70" font-size="7.2" font-weight="bold">2.4</text>
<text x="22.20" y="240.70" font-size="4.2" font-weight="bold">x</text>
<text x="24.40" y="240.70" font-size="7.2" font-weight="bold">10</text>
<text x="33.50" y="238.10" font-size="3.8" font-weight="bold">6</text>
<line x1="37.699999999999996" y1="263.2" x2="39.3" y2="263.2" stroke="#444" stroke-width="0.8"/>
<text x="12.20" y="265.70" font-size="7.2" font-weight="bold">1.6</text>
<text x="22.20" y="265.70" font-size="4.2" font-weight="bold">x</text>
<text x="24.40" y="265.70" font-size="7.2" font-weight="bold">10</text>
<text x="33.50" y="263.10" font-size="3.8" font-weight="bold">6</text>
<line x1="37.699999999999996" y1="288.2" x2="39.3" y2="288.2" stroke="#444" stroke-width="0.8"/>
<text x="12.20" y="290.70" font-size="7.2" font-weight="bold">8.0</text>
<text x="22.20" y="290.70" font-size="4.2" font-weight="bold">x</text>
<text x="24.40" y="290.70" font-size="7.2" font-weight="bold">10</text>
<text x="33.50" y="288.10" font-size="3.8" font-weight="bold">5</text>
<line x1="37.699999999999996" y1="313.2" x2="39.3" y2="313.2" stroke="#444" stroke-width="0.8"/>
<text x="36.099999999999994" y="315.80" font-size="7.2" font-weight="bold" text-anchor="end">0</text>
<line x1="39.3" y1="313.2" x2="39.3" y2="315.2" stroke="#444" stroke-width="0.8"/>
<text x="39.3" y="321.8" font-size="7.5" font-weight="bold" text-anchor="middle">0</text>
<line x1="56.06666666666666" y1="313.2" x2="56.06666666666666" y2="315.2" stroke="#444" stroke-width="0.8"/>
<text x="56.06666666666666" y="321.8" font-size="7.5" font-weight="bold" text-anchor="middle">5</text>
<line x1="72.83333333333333" y1="313.2" x2="72.83333333333333" y2="315.2" stroke="#444" stroke-width="0.8"/>
<text x="72.83333333333333" y="321.8" font-size="7.5" font-weight="bold" text-anchor="middle">10</text>
<line x1="89.6" y1="313.2" x2="89.6" y2="315.2" stroke="#444" stroke-width="0.8"/>
<text x="89.6" y="321.8" font-size="7.5" font-weight="bold" text-anchor="middle">15</text>
<text x="66.4" y="334.6" font-size="9.4" font-weight="bold" text-anchor="middle">day</text>
<path d="M121.2,237.7 L121.2,313.2 L171.5,313.2" stroke="#444" stroke-width="0.8" fill="none"/>
<line x1="119.60000000000001" y1="238.2" x2="121.2" y2="238.2" stroke="#444" stroke-width="0.8"/>
<text x="94.10" y="240.70" font-size="7.2" font-weight="bold">2.4</text>
<text x="104.10" y="240.70" font-size="4.2" font-weight="bold">x</text>
<text x="106.30" y="240.70" font-size="7.2" font-weight="bold">10</text>
<text x="115.40" y="238.10" font-size="3.8" font-weight="bold">6</text>
<line x1="119.60000000000001" y1="263.2" x2="121.2" y2="263.2" stroke="#444" stroke-width="0.8"/>
<text x="94.10" y="265.70" font-size="7.2" font-weight="bold">1.6</text>
<text x="104.10" y="265.70" font-size="4.2" font-weight="bold">x</text>
<text x="106.30" y="265.70" font-size="7.2" font-weight="bold">10</text>
<text x="115.40" y="263.10" font-size="3.8" font-weight="bold">6</text>
<line x1="119.60000000000001" y1="288.2" x2="121.2" y2="288.2" stroke="#444" stroke-width="0.8"/>
<text x="94.10" y="290.70" font-size="7.2" font-weight="bold">8.0</text>
<text x="104.10" y="290.70" font-size="4.2" font-weight="bold">x</text>
<text x="106.30" y="290.70" font-size="7.2" font-weight="bold">10</text>
<text x="115.40" y="288.10" font-size="3.8" font-weight="bold">5</text>
<line x1="119.60000000000001" y1="313.2" x2="121.2" y2="313.2" stroke="#444" stroke-width="0.8"/>
<text x="118.0" y="315.80" font-size="7.2" font-weight="bold" text-anchor="end">0</text>
<line x1="121.2" y1="313.2" x2="121.2" y2="315.2" stroke="#444" stroke-width="0.8"/>
<text x="121.2" y="321.8" font-size="7.5" font-weight="bold" text-anchor="middle">0</text>
<line x1="137.96666666666667" y1="313.2" x2="137.96666666666667" y2="315.2" stroke="#444" stroke-width="0.8"/>
<text x="137.96666666666667" y="321.8" font-size="7.5" font-weight="bold" text-anchor="middle">5</text>
<line x1="154.73333333333335" y1="313.2" x2="154.73333333333335" y2="315.2" stroke="#444" stroke-width="0.8"/>
<text x="154.73333333333335" y="321.8" font-size="7.5" font-weight="bold" text-anchor="middle">10</text>
<line x1="171.5" y1="313.2" x2="171.5" y2="315.2" stroke="#444" stroke-width="0.8"/>
<text x="171.5" y="321.8" font-size="7.5" font-weight="bold" text-anchor="middle">15</text>
<text x="147.5" y="334.6" font-size="9.4" font-weight="bold" text-anchor="middle">day</text>
<path d="M201.2,237.7 L201.2,313.2 L251.5,313.2" stroke="#444" stroke-width="0.8" fill="none"/>
<line x1="199.6" y1="238.2" x2="201.2" y2="238.2" stroke="#444" stroke-width="0.8"/>
<text x="174.10" y="240.70" font-size="7.2" font-weight="bold">2.4</text>
<text x="184.10" y="240.70" font-size="4.2" font-weight="bold">x</text>
<text x="186.30" y="240.70" font-size="7.2" font-weight="bold">10</text>
<text x="195.40" y="238.10" font-size="3.8" font-weight="bold">6</text>
<line x1="199.6" y1="263.2" x2="201.2" y2="263.2" stroke="#444" stroke-width="0.8"/>
<text x="174.10" y="265.70" font-size="7.2" font-weight="bold">1.6</text>
<text x="184.10" y="265.70" font-size="4.2" font-weight="bold">x</text>
<text x="186.30" y="265.70" font-size="7.2" font-weight="bold">10</text>
<text x="195.40" y="263.10" font-size="3.8" font-weight="bold">6</text>
<line x1="199.6" y1="288.2" x2="201.2" y2="288.2" stroke="#444" stroke-width="0.8"/>
<text x="174.10" y="290.70" font-size="7.2" font-weight="bold">8.0</text>
<text x="184.10" y="290.70" font-size="4.2" font-weight="bold">x</text>
<text x="186.30" y="290.70" font-size="7.2" font-weight="bold">10</text>
<text x="195.40" y="288.10" font-size="3.8" font-weight="bold">5</text>
<line x1="199.6" y1="313.2" x2="201.2" y2="313.2" stroke="#444" stroke-width="0.8"/>
<text x="198.0" y="315.80" font-size="7.2" font-weight="bold" text-anchor="end">0</text>
<line x1="201.2" y1="313.2" x2="201.2" y2="315.2" stroke="#444" stroke-width="0.8"/>
<text x="201.2" y="321.8" font-size="7.5" font-weight="bold" text-anchor="middle">0</text>
<line x1="217.96666666666664" y1="313.2" x2="217.96666666666664" y2="315.2" stroke="#444" stroke-width="0.8"/>
<text x="217.96666666666664" y="321.8" font-size="7.5" font-weight="bold" text-anchor="middle">5</text>
<line x1="234.73333333333332" y1="313.2" x2="234.73333333333332" y2="315.2" stroke="#444" stroke-width="0.8"/>
<text x="234.73333333333332" y="321.8" font-size="7.5" font-weight="bold" text-anchor="middle">10</text>
<line x1="251.5" y1="313.2" x2="251.5" y2="315.2" stroke="#444" stroke-width="0.8"/>
<text x="251.5" y="321.8" font-size="7.5" font-weight="bold" text-anchor="middle">15</text>
<text x="228.2" y="334.6" font-size="9.4" font-weight="bold" text-anchor="middle">day</text>
<path d="M281.1,237.7 L281.1,313.2 L331.40000000000003,313.2" stroke="#444" stroke-width="0.8" fill="none"/>
<line x1="279.5" y1="238.2" x2="281.1" y2="238.2" stroke="#444" stroke-width="0.8"/>
<text x="254.00" y="240.70" font-size="7.2" font-weight="bold">2.4</text>
<text x="264.00" y="240.70" font-size="4.2" font-weight="bold">x</text>
<text x="266.20" y="240.70" font-size="7.2" font-weight="bold">10</text>
<text x="275.30" y="238.10" font-size="3.8" font-weight="bold">6</text>
<line x1="279.5" y1="263.2" x2="281.1" y2="263.2" stroke="#444" stroke-width="0.8"/>
<text x="254.00" y="265.70" font-size="7.2" font-weight="bold">1.6</text>
<text x="264.00" y="265.70" font-size="4.2" font-weight="bold">x</text>
<text x="266.20" y="265.70" font-size="7.2" font-weight="bold">10</text>
<text x="275.30" y="263.10" font-size="3.8" font-weight="bold">6</text>
<line x1="279.5" y1="288.2" x2="281.1" y2="288.2" stroke="#444" stroke-width="0.8"/>
<text x="254.00" y="290.70" font-size="7.2" font-weight="bold">8.0</text>
<text x="264.00" y="290.70" font-size="4.2" font-weight="bold">x</text>
<text x="266.20" y="290.70" font-size="7.2" font-weight="bold">10</text>
<text x="275.30" y="288.10" font-size="3.8" font-weight="bold">5</text>
<line x1="279.5" y1="313.2" x2="281.1" y2="313.2" stroke="#444" stroke-width="0.8"/>
<text x="277.90000000000003" y="315.80" font-size="7.2" font-weight="bold" text-anchor="end">0</text>
<line x1="281.1" y1="313.2" x2="281.1" y2="315.2" stroke="#444" stroke-width="0.8"/>
<text x="281.1" y="321.8" font-size="7.5" font-weight="bold" text-anchor="middle">0</text>
<line x1="297.8666666666667" y1="313.2" x2="297.8666666666667" y2="315.2" stroke="#444" stroke-width="0.8"/>
<text x="297.8666666666667" y="321.8" font-size="7.5" font-weight="bold" text-anchor="middle">5</text>
<line x1="314.6333333333333" y1="313.2" x2="314.6333333333333" y2="315.2" stroke="#444" stroke-width="0.8"/>
<text x="314.6333333333333" y="321.8" font-size="7.5" font-weight="bold" text-anchor="middle">10</text>
<line x1="331.40000000000003" y1="313.2" x2="331.40000000000003" y2="315.2" stroke="#444" stroke-width="0.8"/>
<text x="331.40000000000003" y="321.8" font-size="7.5" font-weight="bold" text-anchor="middle">15</text>
<text x="306.6" y="334.6" font-size="9.4" font-weight="bold" text-anchor="middle">day</text>
<polyline points="39.30,302.30 46.01,299.40 62.77,296.50 89.60,297.20" stroke="#222" stroke-width="1.0" fill="none"/>
<polyline points="39.30,301.50 46.01,300.00 52.71,299.00 62.77,296.00 89.60,298.50" stroke="#555" stroke-width="1.0" fill="none"/>
<polyline points="39.30,302.50 46.01,301.00 52.71,302.00 62.77,298.50 89.60,302.30" stroke="#333" stroke-width="1.0" fill="none"/>
<polyline points="39.30,303.00 46.01,302.00 52.71,304.00 62.77,298.50 89.60,300.50" stroke="#888" stroke-width="1.0" fill="none"/>
<polyline points="39.30,302.00 46.01,300.50 52.71,303.00 62.77,297.50 89.60,299.00" stroke="#aaa" stroke-width="1.0" fill="none"/>
<polyline points="121.20,302.50 127.91,302.00 134.61,301.00 144.67,296.50 171.50,300.80" stroke="#222" stroke-width="1.0" fill="none"/>
<polyline points="121.20,302.80 127.91,302.20 134.61,302.00 144.67,297.50 171.50,301.00" stroke="#444" stroke-width="1.0" fill="none"/>
<polyline points="121.20,303.00 127.91,302.50 134.61,304.00 144.67,299.00 171.50,301.50" stroke="#777" stroke-width="1.0" fill="none"/>
<polyline points="121.20,302.00 127.91,301.50 134.61,301.50 144.67,296.00 171.50,300.00" stroke="#999" stroke-width="1.0" fill="none"/>
<polyline points="201.20,296.30 203.55,292.80 214.61,280.10 224.67,294.60 251.50,303.90" stroke="#555" stroke-width="1.0" fill="none"/>
<polyline points="201.20,298.00 214.61,287.60 224.67,302.70 251.50,306.80" stroke="#111" stroke-width="1.0" fill="none"/>
<polyline points="201.20,299.50 214.61,289.50 224.67,303.30 251.50,306.80" stroke="#333" stroke-width="1.0" fill="none"/>
<polyline points="201.20,298.70 214.61,291.70 224.67,304.00 251.50,306.30" stroke="#777" stroke-width="1.0" fill="none"/>
<polyline points="201.20,299.30 214.61,293.40 224.67,304.40 251.50,306.30" stroke="#999" stroke-width="1.0" fill="none"/>
<polyline points="201.20,302.10 203.55,303.30 214.61,295.70 224.67,304.40 251.50,306.80" stroke="#aaa" stroke-width="1.0" fill="none"/>
<polyline points="281.10,299.30 283.45,295.50 294.51,241.40 304.57,272.70 324.69,279.30 331.40,304.00" stroke="#444" stroke-width="1.0" fill="none"/>
<polyline points="281.10,299.30 283.45,296.00 294.51,256.60 304.57,259.40 331.40,303.00" stroke="#555" stroke-width="1.0" fill="none"/>
<polyline points="281.10,299.30 283.45,297.00 294.51,260.40 304.57,285.00 331.40,305.00" stroke="#333" stroke-width="1.0" fill="none"/>
<polyline points="281.10,299.50 283.45,298.00 294.51,268.90 304.57,290.70 331.40,305.90" stroke="#555" stroke-width="1.0" fill="none"/>
<polyline points="281.10,299.80 283.45,298.50 294.51,275.50 304.57,292.60 331.40,305.90" stroke="#222" stroke-width="1.0" fill="none"/>
<polyline points="281.10,300.00 283.45,299.00 294.51,277.40 304.57,294.50 331.40,306.90" stroke="#888" stroke-width="1.0" fill="none"/>
<polyline points="281.10,300.30 283.45,299.50 294.51,280.30 304.57,295.50 331.40,306.90" stroke="#aaa" stroke-width="1.0" fill="none"/>
<text x="364" y="234.3" font-size="12" font-weight="bold">C</text>
<path d="M406.8,245.0 L406.8,311.7 L509,311.7" stroke="#444" stroke-width="0.8" fill="none"/>
<line x1="404.8" y1="245.4" x2="406.8" y2="245.4" stroke="#444" stroke-width="0.8"/>
<text x="403.8" y="247.70" font-size="6.3" font-weight="bold" text-anchor="end">400000</text>
<line x1="404.8" y1="262" x2="406.8" y2="262" stroke="#444" stroke-width="0.8"/>
<text x="403.8" y="264.30" font-size="6.3" font-weight="bold" text-anchor="end">300000</text>
<line x1="404.8" y1="278.5" x2="406.8" y2="278.5" stroke="#444" stroke-width="0.8"/>
<text x="403.8" y="280.80" font-size="6.3" font-weight="bold" text-anchor="end">200000</text>
<line x1="404.8" y1="295.1" x2="406.8" y2="295.1" stroke="#444" stroke-width="0.8"/>
<text x="403.8" y="297.40" font-size="6.3" font-weight="bold" text-anchor="end">100000</text>
<line x1="404.8" y1="311.7" x2="406.8" y2="311.7" stroke="#444" stroke-width="0.8"/>
<text x="403.8" y="314.00" font-size="6.3" font-weight="bold" text-anchor="end">0</text>
<line x1="433.2" y1="311.7" x2="433.2" y2="313.7" stroke="#444" stroke-width="0.8"/>
<text x="433.4" y="319.0" font-size="6.25" font-weight="bold" text-anchor="middle">Black-N29</text>
<line x1="483.8" y1="311.7" x2="483.8" y2="313.7" stroke="#444" stroke-width="0.8"/>
<text x="482" y="319.0" font-size="6.25" font-weight="bold" text-anchor="middle">Black-N29 + FTY720</text>
<text transform="translate(379.4,278) rotate(-90)" font-size="6.6" font-weight="bold" text-anchor="middle">Photons/sec/cm<tspan font-size="4" dy="-2.3">2</tspan><tspan dy="2.3">/sr</tspan></text>
<line x1="416.2" y1="287.4" x2="450.2" y2="287.4" stroke="#222" stroke-width="0.9"/>
<line x1="424.7" y1="284.9" x2="441.7" y2="284.9" stroke="#222" stroke-width="0.9"/>
<line x1="424.7" y1="290.2" x2="441.7" y2="290.2" stroke="#222" stroke-width="0.9"/>
<line x1="433.2" y1="284.9" x2="433.2" y2="290.2" stroke="#222" stroke-width="0.9"/>
<circle cx="428.9" cy="281.7" r="1.5" fill="#111"/>
<circle cx="437.2" cy="282.2" r="1.5" fill="#111"/>
<circle cx="433.1" cy="284.9" r="1.5" fill="#111"/>
<circle cx="431.4" cy="287" r="1.5" fill="#111"/>
<circle cx="435.3" cy="290.8" r="1.5" fill="#111"/>
<circle cx="433.1" cy="298.7" r="1.5" fill="#111"/>
<line x1="466.45" y1="269.5" x2="500.95" y2="269.5" stroke="#222" stroke-width="0.9"/>
<line x1="475.2" y1="265.4" x2="492.2" y2="265.4" stroke="#222" stroke-width="0.9"/>
<line x1="475.2" y1="273.3" x2="492.2" y2="273.3" stroke="#222" stroke-width="0.9"/>
<line x1="483.7" y1="265.4" x2="483.7" y2="273.3" stroke="#222" stroke-width="0.9"/>
<circle cx="483.9" cy="254.7" r="1.5" fill="#111"/>
<circle cx="483.9" cy="265.2" r="1.5" fill="#111"/>
<circle cx="485.4" cy="270.5" r="1.5" fill="#111"/>
<circle cx="481.8" cy="268" r="1.5" fill="#111"/>
<circle cx="486" cy="278.1" r="1.5" fill="#111"/>
<circle cx="481.8" cy="280" r="1.5" fill="#111"/>
<text x="6.3" y="376.5" font-size="12" font-weight="bold">D</text>
<path d="M43.1,382.5 L43.1,455.5 L153,455.5" stroke="#444" stroke-width="0.8" fill="none"/>
<line x1="41.1" y1="382.9" x2="43.1" y2="382.9" stroke="#444" stroke-width="0.8"/>
<text x="40.7" y="385.70" font-size="6.5" font-weight="bold" text-anchor="end">8</text>
<line x1="41.1" y1="401" x2="43.1" y2="401" stroke="#444" stroke-width="0.8"/>
<text x="40.7" y="403.80" font-size="6.5" font-weight="bold" text-anchor="end">6</text>
<line x1="41.1" y1="419.2" x2="43.1" y2="419.2" stroke="#444" stroke-width="0.8"/>
<text x="40.7" y="422.00" font-size="6.5" font-weight="bold" text-anchor="end">4</text>
<line x1="41.1" y1="437.4" x2="43.1" y2="437.4" stroke="#444" stroke-width="0.8"/>
<text x="40.7" y="440.20" font-size="6.5" font-weight="bold" text-anchor="end">2</text>
<line x1="41.1" y1="455.5" x2="43.1" y2="455.5" stroke="#444" stroke-width="0.8"/>
<text x="40.7" y="458.30" font-size="6.5" font-weight="bold" text-anchor="end">0</text>
<line x1="70.7" y1="455.5" x2="70.7" y2="457.5" stroke="#444" stroke-width="0.8"/>
<text x="70.5" y="464.3" font-size="7" font-weight="bold" text-anchor="middle">Black-N29</text>
<line x1="125.5" y1="455.5" x2="125.5" y2="457.5" stroke="#444" stroke-width="0.8"/>
<text x="124.9" y="464.3" font-size="7" font-weight="bold" text-anchor="middle">Black-N29 + FTY720</text>
<text transform="translate(24.3,419.6) rotate(-90)" font-size="6.9" font-weight="bold" text-anchor="middle">%CD3 in the blood</text>
<line x1="52.1" y1="404.1" x2="89.30000000000001" y2="404.1" stroke="#222" stroke-width="0.9"/>
<line x1="61.400000000000006" y1="400.1" x2="80.0" y2="400.1" stroke="#222" stroke-width="0.9"/>
<line x1="61.400000000000006" y1="407.7" x2="80.0" y2="407.7" stroke="#222" stroke-width="0.9"/>
<line x1="70.7" y1="400.1" x2="70.7" y2="407.7" stroke="#222" stroke-width="0.9"/>
<circle cx="68.5" cy="393.5" r="1.5" fill="#111"/>
<circle cx="72.7" cy="394.5" r="1.5" fill="#111"/>
<circle cx="71.1" cy="400.7" r="1.5" fill="#111"/>
<circle cx="68.1" cy="409.1" r="1.5" fill="#111"/>
<circle cx="72.7" cy="410.1" r="1.5" fill="#111"/>
<circle cx="70.7" cy="417.5" r="1.5" fill="#111"/>
<line x1="106.7" y1="453.6" x2="143.3" y2="453.6" stroke="#999" stroke-width="1.3"/>
<rect x="112.8" y="452.3" width="2.4" height="2.4" fill="#111"/>
<rect x="115.3" y="452.6" width="2.4" height="2.4" fill="#111"/>
<rect x="117.8" y="452.8" width="2.4" height="2.4" fill="#111"/>
<rect x="120.3" y="453.1" width="2.4" height="2.4" fill="#111"/>
<rect x="122.8" y="453.0" width="2.4" height="2.4" fill="#111"/>
<rect x="125.3" y="452.7" width="2.4" height="2.4" fill="#111"/>
<rect x="127.8" y="452.6" width="2.4" height="2.4" fill="#111"/>
<rect x="130.3" y="452.3" width="2.4" height="2.4" fill="#111"/>
<rect x="132.8" y="452.0" width="2.4" height="2.4" fill="#111"/>
<rect x="135.8" y="451.40000000000003" width="2.4" height="2.4" fill="#111"/>
<text x="171" y="374.2" font-size="12" font-weight="bold">E</text>
<path d="M206.6,389.20000000000005 L206.6,455.2 L323.8,455.2" stroke="#444" stroke-width="0.8" fill="none"/>
<line x1="204.6" y1="389.6" x2="206.6" y2="389.6" stroke="#444" stroke-width="0.8"/>
<text x="204.29999999999998" y="391.90" font-size="6.4" font-weight="bold" text-anchor="end">20</text>
<line x1="204.6" y1="406" x2="206.6" y2="406" stroke="#444" stroke-width="0.8"/>
<text x="204.29999999999998" y="408.30" font-size="6.4" font-weight="bold" text-anchor="end">15</text>
<line x1="204.6" y1="422.4" x2="206.6" y2="422.4" stroke="#444" stroke-width="0.8"/>
<text x="204.29999999999998" y="424.70" font-size="6.4" font-weight="bold" text-anchor="end">10</text>
<line x1="204.6" y1="438.8" x2="206.6" y2="438.8" stroke="#444" stroke-width="0.8"/>
<text x="204.29999999999998" y="441.10" font-size="6.4" font-weight="bold" text-anchor="end">5</text>
<line x1="204.6" y1="455.2" x2="206.6" y2="455.2" stroke="#444" stroke-width="0.8"/>
<text x="204.29999999999998" y="457.50" font-size="6.4" font-weight="bold" text-anchor="end">0</text>
<line x1="236.2" y1="455.2" x2="236.2" y2="457.2" stroke="#444" stroke-width="0.8"/>
<text x="236.3" y="464.3" font-size="7.1" font-weight="bold" text-anchor="middle">Black-N29</text>
<line x1="292.5" y1="455.2" x2="292.5" y2="457.2" stroke="#444" stroke-width="0.8"/>
<text x="292.1" y="464.3" font-size="7.1" font-weight="bold" text-anchor="middle">Black-N29 + FTY720</text>
<text transform="translate(191.7,423.8) rotate(-90)" font-size="6.3" font-weight="bold" text-anchor="middle">% Black-N29 from total CD3-</text>
<line x1="216.8" y1="452.5" x2="254.8" y2="452.5" stroke="#999" stroke-width="1.3"/>
<rect x="234.89999999999998" y="449.3" width="2.6" height="2.6" fill="#111"/>
<rect x="226.2" y="451.09999999999997" width="2.6" height="2.6" fill="#111"/>
<rect x="229.2" y="451.3" width="2.6" height="2.6" fill="#111"/>
<rect x="232.2" y="451.5" width="2.6" height="2.6" fill="#111"/>
<rect x="234.89999999999998" y="451.5" width="2.6" height="2.6" fill="#111"/>
<rect x="237.7" y="451.5" width="2.6" height="2.6" fill="#111"/>
<rect x="240.7" y="451.2" width="2.6" height="2.6" fill="#111"/>
<rect x="243.0" y="451.0" width="2.6" height="2.6" fill="#111"/>
<rect x="234.0" y="453.09999999999997" width="2.6" height="2.6" fill="#111"/>
<line x1="273.5" y1="431.3" x2="311.5" y2="431.3" stroke="#222" stroke-width="0.9"/>
<line x1="282.5" y1="424.3" x2="302.5" y2="424.3" stroke="#222" stroke-width="0.9"/>
<line x1="282.5" y1="438.8" x2="302.5" y2="438.8" stroke="#222" stroke-width="0.9"/>
<line x1="292.5" y1="424.3" x2="292.5" y2="438.8" stroke="#222" stroke-width="0.9"/>
<rect x="291.0" y="405.3" width="3.0" height="3.0" fill="#111"/>
<rect x="291.0" y="425.3" width="3.0" height="3.0" fill="#111"/>
<rect x="291.0" y="431.0" width="3.0" height="3.0" fill="#111"/>
<rect x="288.5" y="445.3" width="3.0" height="3.0" fill="#111"/>
<rect x="293.5" y="444.0" width="3.0" height="3.0" fill="#111"/>
<text x="347.5" y="373.9" font-size="12" font-weight="bold">F</text>
<path d="M375.7,389.8 L375.7,457.3 L488.8,457.3" stroke="#444" stroke-width="0.8" fill="none"/>
<line x1="373.7" y1="390.2" x2="375.7" y2="390.2" stroke="#444" stroke-width="0.8"/>
<text x="373.4" y="392.50" font-size="6.4" font-weight="bold" text-anchor="end">60</text>
<line x1="373.7" y1="412.6" x2="375.7" y2="412.6" stroke="#444" stroke-width="0.8"/>
<text x="373.4" y="414.90" font-size="6.4" font-weight="bold" text-anchor="end">40</text>
<line x1="373.7" y1="435" x2="375.7" y2="435" stroke="#444" stroke-width="0.8"/>
<text x="373.4" y="437.30" font-size="6.4" font-weight="bold" text-anchor="end">20</text>
<line x1="373.7" y1="457.3" x2="375.7" y2="457.3" stroke="#444" stroke-width="0.8"/>
<text x="373.4" y="459.60" font-size="6.4" font-weight="bold" text-anchor="end">0</text>
<line x1="405" y1="457.3" x2="405" y2="459.3" stroke="#444" stroke-width="0.8"/>
<text x="405.05" y="467.6" font-size="7.2" font-weight="bold" text-anchor="middle">Black-N29</text>
<line x1="461.4" y1="457.3" x2="461.4" y2="459.3" stroke="#444" stroke-width="0.8"/>
<text x="461.4" y="467.6" font-size="7.2" font-weight="bold" text-anchor="middle">Black-N29 + FTY720</text>
<text transform="translate(361.1,424.6) rotate(-90)" font-size="6.45" font-weight="bold" text-anchor="middle">%Black-N29 from total CD3</text>
<line x1="385.3" y1="436.5" x2="423.8" y2="436.5" stroke="#888" stroke-width="1.2"/>
<rect x="394.15" y="434.45" width="2.5" height="2.5" fill="#111"/>
<rect x="396.75" y="435.05" width="2.5" height="2.5" fill="#111"/>
<rect x="399.25" y="435.15" width="2.5" height="2.5" fill="#111"/>
<rect x="403.25" y="436.95" width="2.5" height="2.5" fill="#111"/>
<rect x="407.55" y="436.35" width="2.5" height="2.5" fill="#111"/>
<rect x="410.25" y="435.15" width="2.5" height="2.5" fill="#111"/>
<rect x="412.95" y="434.35" width="2.5" height="2.5" fill="#111"/>
<line x1="442.2" y1="405.4" x2="480.59999999999997" y2="405.4" stroke="#222" stroke-width="0.9"/>
<line x1="451.7" y1="402.5" x2="471.09999999999997" y2="402.5" stroke="#222" stroke-width="0.9"/>
<line x1="451.7" y1="408" x2="471.09999999999997" y2="408" stroke="#222" stroke-width="0.9"/>
<line x1="461.4" y1="402.5" x2="461.4" y2="408" stroke="#222" stroke-width="0.9"/>
<rect x="455.0" y="399.3" width="3.0" height="3.0" fill="#111"/>
<rect x="464.5" y="399.3" width="3.0" height="3.0" fill="#111"/>
<rect x="460.8" y="403.9" width="3.0" height="3.0" fill="#111"/>
<rect x="460.2" y="407.3" width="3.0" height="3.0" fill="#111"/>
<rect x="457.9" y="410.8" width="3.0" height="3.0" fill="#111"/>
</g></svg></body></html>
